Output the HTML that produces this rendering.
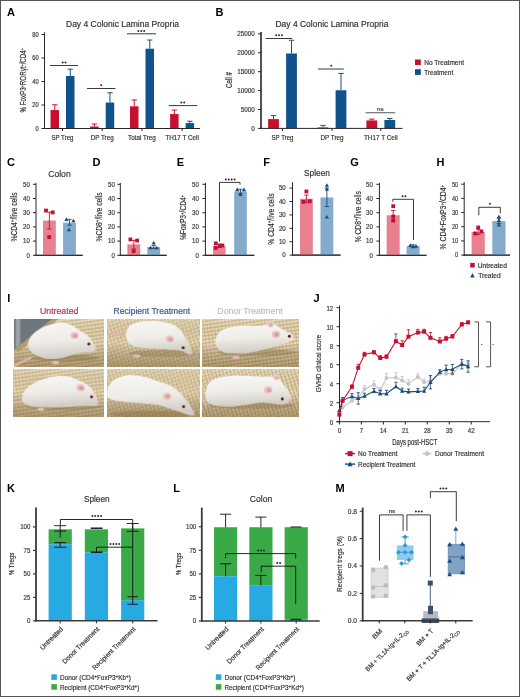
<!DOCTYPE html><html><head><meta charset="utf-8"><style>html,body{margin:0;padding:0;background:#fff;}svg{display:block;will-change:transform;font-family:"Liberation Sans",sans-serif;}</style></head><body>
<svg width="520" height="697" viewBox="0 0 520 697">
<rect x="0" y="0" width="520" height="697" fill="#fff" />
<text x="7" y="16.3" font-size="11" text-anchor="start" fill="#000" font-weight="bold" >A</text>
<text x="122.5" y="26.6" font-size="8.3" text-anchor="middle" fill="#333" font-weight="normal" stroke="#333" stroke-width="0.18" textLength="113" lengthAdjust="spacingAndGlyphs" >Day 4 Colonic Lamina Propria</text>
<line x1="44.5" y1="32.3" x2="44.5" y2="129" stroke="#262626" stroke-width="1"/>
<line x1="44" y1="128.5" x2="200" y2="128.5" stroke="#262626" stroke-width="1"/>
<line x1="41.5" y1="128.5" x2="44.5" y2="128.5" stroke="#262626" stroke-width="1"/>
<text x="38.6" y="130.9" font-size="6.6" text-anchor="end" fill="#3a3a3a" font-weight="normal" stroke="#3a3a3a" stroke-width="0.18" textLength="3.2" lengthAdjust="spacingAndGlyphs" >0</text>
<line x1="41.5" y1="105" x2="44.5" y2="105" stroke="#262626" stroke-width="1"/>
<text x="38.6" y="107.4" font-size="6.6" text-anchor="end" fill="#3a3a3a" font-weight="normal" stroke="#3a3a3a" stroke-width="0.18" textLength="6.4" lengthAdjust="spacingAndGlyphs" >20</text>
<line x1="41.5" y1="81.5" x2="44.5" y2="81.5" stroke="#262626" stroke-width="1"/>
<text x="38.6" y="83.9" font-size="6.6" text-anchor="end" fill="#3a3a3a" font-weight="normal" stroke="#3a3a3a" stroke-width="0.18" textLength="6.4" lengthAdjust="spacingAndGlyphs" >40</text>
<line x1="41.5" y1="58" x2="44.5" y2="58" stroke="#262626" stroke-width="1"/>
<text x="38.6" y="60.4" font-size="6.6" text-anchor="end" fill="#3a3a3a" font-weight="normal" stroke="#3a3a3a" stroke-width="0.18" textLength="6.4" lengthAdjust="spacingAndGlyphs" >60</text>
<line x1="41.5" y1="34.5" x2="44.5" y2="34.5" stroke="#262626" stroke-width="1"/>
<text x="38.6" y="36.9" font-size="6.6" text-anchor="end" fill="#3a3a3a" font-weight="normal" stroke="#3a3a3a" stroke-width="0.18" textLength="6.4" lengthAdjust="spacingAndGlyphs" >80</text>
<text x="25.7" y="80.3" font-size="8.4" text-anchor="middle" fill="#333" font-weight="normal" stroke="#333" stroke-width="0.18" transform="rotate(-90 25.7 80.3)" textLength="64.6" lengthAdjust="spacingAndGlyphs" >% FoxP3<tspan dy="-2" font-size="5">+</tspan><tspan dy="2">ROR</tspan>γt<tspan dy="-2" font-size="5">+</tspan><tspan dy="2">/CD4</tspan><tspan dy="-2" font-size="5">+</tspan></text>
<line x1="62.5" y1="128.5" x2="62.5" y2="131" stroke="#262626" stroke-width="1"/>
<text x="62.5" y="140.2" font-size="6.8" text-anchor="middle" fill="#333" font-weight="normal" stroke="#333" stroke-width="0.18" textLength="22.1" lengthAdjust="spacingAndGlyphs" >SP Treg</text>
<line x1="54.75" y1="110.05" x2="54.75" y2="104.77" stroke="#c8102e" stroke-width="1"/>
<line x1="52.15" y1="104.77" x2="57.35" y2="104.77" stroke="#c8102e" stroke-width="1"/>
<rect x="50.5" y="110.05" width="8.5" height="18.45" fill="#c8102e" />
<line x1="70.25" y1="75.98" x2="70.25" y2="69.16" stroke="#0f528c" stroke-width="1"/>
<line x1="67.65" y1="69.16" x2="72.85" y2="69.16" stroke="#0f528c" stroke-width="1"/>
<rect x="66" y="75.98" width="8.5" height="52.52" fill="#0f528c" />
<line x1="102.2" y1="128.5" x2="102.2" y2="131" stroke="#262626" stroke-width="1"/>
<text x="102.2" y="140.2" font-size="6.8" text-anchor="middle" fill="#333" font-weight="normal" stroke="#333" stroke-width="0.18" textLength="22.9" lengthAdjust="spacingAndGlyphs" >DP Treg</text>
<line x1="94.45" y1="126.5" x2="94.45" y2="124.03" stroke="#c8102e" stroke-width="1"/>
<line x1="91.85" y1="124.03" x2="97.05" y2="124.03" stroke="#c8102e" stroke-width="1"/>
<rect x="90.2" y="126.5" width="8.5" height="2" fill="#c8102e" />
<line x1="109.95" y1="102.53" x2="109.95" y2="92.78" stroke="#0f528c" stroke-width="1"/>
<line x1="107.35" y1="92.78" x2="112.55" y2="92.78" stroke="#0f528c" stroke-width="1"/>
<rect x="105.7" y="102.53" width="8.5" height="25.97" fill="#0f528c" />
<line x1="142" y1="128.5" x2="142" y2="131" stroke="#262626" stroke-width="1"/>
<text x="142" y="140.2" font-size="6.8" text-anchor="middle" fill="#333" font-weight="normal" stroke="#333" stroke-width="0.18" textLength="27.8" lengthAdjust="spacingAndGlyphs" >Total Treg</text>
<line x1="134.25" y1="106.29" x2="134.25" y2="99.95" stroke="#c8102e" stroke-width="1"/>
<line x1="131.65" y1="99.95" x2="136.85" y2="99.95" stroke="#c8102e" stroke-width="1"/>
<rect x="130" y="106.29" width="8.5" height="22.21" fill="#c8102e" />
<line x1="149.75" y1="48.72" x2="149.75" y2="40.02" stroke="#0f528c" stroke-width="1"/>
<line x1="147.15" y1="40.02" x2="152.35" y2="40.02" stroke="#0f528c" stroke-width="1"/>
<rect x="145.5" y="48.72" width="8.5" height="79.78" fill="#0f528c" />
<line x1="182.1" y1="128.5" x2="182.1" y2="131" stroke="#262626" stroke-width="1"/>
<text x="182.1" y="140.2" font-size="6.8" text-anchor="middle" fill="#333" font-weight="normal" stroke="#333" stroke-width="0.18" textLength="33.4" lengthAdjust="spacingAndGlyphs" >TH17 T Cell</text>
<line x1="174.35" y1="114.05" x2="174.35" y2="110.05" stroke="#c8102e" stroke-width="1"/>
<line x1="171.75" y1="110.05" x2="176.95" y2="110.05" stroke="#c8102e" stroke-width="1"/>
<rect x="170.1" y="114.05" width="8.5" height="14.45" fill="#c8102e" />
<line x1="189.85" y1="123.09" x2="189.85" y2="121.22" stroke="#0f528c" stroke-width="1"/>
<line x1="187.25" y1="121.22" x2="192.45" y2="121.22" stroke="#0f528c" stroke-width="1"/>
<rect x="185.6" y="123.09" width="8.5" height="5.41" fill="#0f528c" />
<line x1="44" y1="128.5" x2="200" y2="128.5" stroke="#262626" stroke-width="1"/>
<line x1="50" y1="65.5" x2="78" y2="65.5" stroke="#3a3a3a" stroke-width="1"/>
<circle cx="62.65" cy="62.6" r="1.0" fill="#2a2a2a"/>
<circle cx="65.55" cy="62.6" r="1.0" fill="#2a2a2a"/>
<line x1="87" y1="88.5" x2="115.5" y2="88.5" stroke="#3a3a3a" stroke-width="1"/>
<circle cx="101.25" cy="85.2" r="1.0" fill="#2a2a2a"/>
<line x1="127" y1="33.8" x2="156" y2="33.8" stroke="#3a3a3a" stroke-width="1"/>
<circle cx="138.4" cy="31" r="1.0" fill="#2a2a2a"/>
<circle cx="141.3" cy="31" r="1.0" fill="#2a2a2a"/>
<circle cx="144.2" cy="31" r="1.0" fill="#2a2a2a"/>
<line x1="168.7" y1="105.6" x2="197.3" y2="105.6" stroke="#3a3a3a" stroke-width="1"/>
<circle cx="181.3" cy="102.6" r="1.0" fill="#2a2a2a"/>
<circle cx="184.2" cy="102.6" r="1.0" fill="#2a2a2a"/>
<text x="215.5" y="16.3" font-size="11" text-anchor="start" fill="#000" font-weight="bold" >B</text>
<text x="331.9" y="26.6" font-size="8.3" text-anchor="middle" fill="#333" font-weight="normal" stroke="#333" stroke-width="0.18" textLength="113" lengthAdjust="spacingAndGlyphs" >Day 4 Colonic Lamina Propria</text>
<line x1="261" y1="31.9" x2="261" y2="129" stroke="#262626" stroke-width="1.6"/>
<line x1="258" y1="128.4" x2="261" y2="128.4" stroke="#262626" stroke-width="1"/>
<text x="254.8" y="130.8" font-size="6.6" text-anchor="end" fill="#3a3a3a" font-weight="normal" stroke="#3a3a3a" stroke-width="0.18" textLength="3.5" lengthAdjust="spacingAndGlyphs" >0</text>
<line x1="258" y1="109.5" x2="261" y2="109.5" stroke="#262626" stroke-width="1"/>
<text x="254.8" y="111.9" font-size="6.6" text-anchor="end" fill="#3a3a3a" font-weight="normal" stroke="#3a3a3a" stroke-width="0.18" textLength="14" lengthAdjust="spacingAndGlyphs" >5000</text>
<line x1="258" y1="90.6" x2="261" y2="90.6" stroke="#262626" stroke-width="1"/>
<text x="254.8" y="93" font-size="6.6" text-anchor="end" fill="#3a3a3a" font-weight="normal" stroke="#3a3a3a" stroke-width="0.18" textLength="17.5" lengthAdjust="spacingAndGlyphs" >10000</text>
<line x1="258" y1="71.7" x2="261" y2="71.7" stroke="#262626" stroke-width="1"/>
<text x="254.8" y="74.1" font-size="6.6" text-anchor="end" fill="#3a3a3a" font-weight="normal" stroke="#3a3a3a" stroke-width="0.18" textLength="17.5" lengthAdjust="spacingAndGlyphs" >15000</text>
<line x1="258" y1="52.8" x2="261" y2="52.8" stroke="#262626" stroke-width="1"/>
<text x="254.8" y="55.2" font-size="6.6" text-anchor="end" fill="#3a3a3a" font-weight="normal" stroke="#3a3a3a" stroke-width="0.18" textLength="17.5" lengthAdjust="spacingAndGlyphs" >20000</text>
<line x1="258" y1="33.9" x2="261" y2="33.9" stroke="#262626" stroke-width="1"/>
<text x="254.8" y="36.3" font-size="6.6" text-anchor="end" fill="#3a3a3a" font-weight="normal" stroke="#3a3a3a" stroke-width="0.18" textLength="17.5" lengthAdjust="spacingAndGlyphs" >25000</text>
<text x="232" y="80" font-size="8.2" text-anchor="middle" fill="#333" font-weight="normal" stroke="#333" stroke-width="0.18" transform="rotate(-90 232 80)" textLength="16.2" lengthAdjust="spacingAndGlyphs" >Cell #</text>
<line x1="282.5" y1="128.4" x2="282.5" y2="131" stroke="#262626" stroke-width="1"/>
<text x="282.5" y="140.4" font-size="6.8" text-anchor="middle" fill="#333" font-weight="normal" stroke="#333" stroke-width="0.18" textLength="22" lengthAdjust="spacingAndGlyphs" >SP Treg</text>
<line x1="273.5" y1="119.1" x2="273.5" y2="115.59" stroke="#c8102e" stroke-width="1"/>
<line x1="270.8" y1="115.59" x2="276.2" y2="115.59" stroke="#c8102e" stroke-width="1"/>
<rect x="268.1" y="119.1" width="10.8" height="9.3" fill="#c8102e" />
<line x1="291.5" y1="53.5" x2="291.5" y2="40.25" stroke="#0f528c" stroke-width="1"/>
<line x1="288.8" y1="40.25" x2="294.2" y2="40.25" stroke="#0f528c" stroke-width="1"/>
<rect x="286.1" y="53.5" width="10.8" height="74.9" fill="#0f528c" />
<line x1="332" y1="128.4" x2="332" y2="131" stroke="#262626" stroke-width="1"/>
<text x="332" y="140.4" font-size="6.8" text-anchor="middle" fill="#333" font-weight="normal" stroke="#333" stroke-width="0.18" textLength="23" lengthAdjust="spacingAndGlyphs" >DP Treg</text>
<line x1="323" y1="127.42" x2="323" y2="125.41" stroke="#c8102e" stroke-width="1"/>
<line x1="320.3" y1="125.41" x2="325.7" y2="125.41" stroke="#c8102e" stroke-width="1"/>
<rect x="317.6" y="127.42" width="10.8" height="0.98" fill="#c8102e" />
<line x1="341" y1="90.26" x2="341" y2="73.4" stroke="#0f528c" stroke-width="1"/>
<line x1="338.3" y1="73.4" x2="343.7" y2="73.4" stroke="#0f528c" stroke-width="1"/>
<rect x="335.6" y="90.26" width="10.8" height="38.14" fill="#0f528c" />
<line x1="380.8" y1="128.4" x2="380.8" y2="131" stroke="#262626" stroke-width="1"/>
<text x="380.8" y="140.4" font-size="6.8" text-anchor="middle" fill="#333" font-weight="normal" stroke="#333" stroke-width="0.18" textLength="33.6" lengthAdjust="spacingAndGlyphs" >TH17 T Cell</text>
<line x1="371.8" y1="120.41" x2="371.8" y2="119.1" stroke="#c8102e" stroke-width="1"/>
<line x1="369.1" y1="119.1" x2="374.5" y2="119.1" stroke="#c8102e" stroke-width="1"/>
<rect x="366.4" y="120.41" width="10.8" height="7.99" fill="#c8102e" />
<line x1="389.8" y1="120.01" x2="389.8" y2="118.5" stroke="#0f528c" stroke-width="1"/>
<line x1="387.1" y1="118.5" x2="392.5" y2="118.5" stroke="#0f528c" stroke-width="1"/>
<rect x="384.4" y="120.01" width="10.8" height="8.39" fill="#0f528c" />
<line x1="260.5" y1="128.4" x2="402.5" y2="128.4" stroke="#262626" stroke-width="1"/>
<line x1="265.6" y1="38.5" x2="292" y2="38.5" stroke="#3a3a3a" stroke-width="1"/>
<circle cx="276.1" cy="35.2" r="1.0" fill="#2a2a2a"/>
<circle cx="279" cy="35.2" r="1.0" fill="#2a2a2a"/>
<circle cx="281.9" cy="35.2" r="1.0" fill="#2a2a2a"/>
<line x1="318" y1="69" x2="343.8" y2="69" stroke="#3a3a3a" stroke-width="1"/>
<circle cx="331.25" cy="65.8" r="1.0" fill="#2a2a2a"/>
<line x1="365.6" y1="112.75" x2="395.3" y2="112.75" stroke="#555" stroke-width="1"/>
<text x="380.3" y="110.6" font-size="6.2" text-anchor="middle" fill="#333" font-weight="normal" stroke="#333" stroke-width="0.18" >ns</text>
<rect x="415" y="59.5" width="5.8" height="5.5" fill="#c8102e" />
<rect x="415" y="69.2" width="5.8" height="5.7" fill="#0f528c" />
<text x="424.2" y="64.8" font-size="6.8" text-anchor="start" fill="#333" font-weight="normal" stroke="#333" stroke-width="0.18" textLength="39.8" lengthAdjust="spacingAndGlyphs" >No Treatment</text>
<text x="424.2" y="74.8" font-size="6.8" text-anchor="start" fill="#333" font-weight="normal" stroke="#333" stroke-width="0.18" textLength="29" lengthAdjust="spacingAndGlyphs" >Treatment</text>
<text x="6.9" y="166.3" font-size="11" text-anchor="start" fill="#000" font-weight="bold" >C</text>
<text x="59.45" y="176.8" font-size="9" text-anchor="middle" fill="#333" font-weight="normal" stroke="#333" stroke-width="0.18" textLength="22.5" lengthAdjust="spacingAndGlyphs" >Colon</text>
<line x1="36" y1="182.9" x2="36" y2="255.8" stroke="#262626" stroke-width="1"/>
<line x1="35.5" y1="255.3" x2="82.7" y2="255.3" stroke="#262626" stroke-width="1"/>
<line x1="33" y1="255.3" x2="36" y2="255.3" stroke="#262626" stroke-width="1"/>
<text x="29.8" y="257.6" font-size="6.6" text-anchor="end" fill="#3a3a3a" font-weight="normal" stroke="#3a3a3a" stroke-width="0.18" textLength="3.4" lengthAdjust="spacingAndGlyphs" >0</text>
<line x1="33" y1="241.1" x2="36" y2="241.1" stroke="#262626" stroke-width="1"/>
<text x="29.8" y="243.4" font-size="6.6" text-anchor="end" fill="#3a3a3a" font-weight="normal" stroke="#3a3a3a" stroke-width="0.18" textLength="6.8" lengthAdjust="spacingAndGlyphs" >10</text>
<line x1="33" y1="226.9" x2="36" y2="226.9" stroke="#262626" stroke-width="1"/>
<text x="29.8" y="229.2" font-size="6.6" text-anchor="end" fill="#3a3a3a" font-weight="normal" stroke="#3a3a3a" stroke-width="0.18" textLength="6.8" lengthAdjust="spacingAndGlyphs" >20</text>
<line x1="33" y1="212.7" x2="36" y2="212.7" stroke="#262626" stroke-width="1"/>
<text x="29.8" y="215" font-size="6.6" text-anchor="end" fill="#3a3a3a" font-weight="normal" stroke="#3a3a3a" stroke-width="0.18" textLength="6.8" lengthAdjust="spacingAndGlyphs" >30</text>
<line x1="33" y1="198.5" x2="36" y2="198.5" stroke="#262626" stroke-width="1"/>
<text x="29.8" y="200.8" font-size="6.6" text-anchor="end" fill="#3a3a3a" font-weight="normal" stroke="#3a3a3a" stroke-width="0.18" textLength="6.8" lengthAdjust="spacingAndGlyphs" >40</text>
<line x1="33" y1="184.3" x2="36" y2="184.3" stroke="#262626" stroke-width="1"/>
<text x="29.8" y="186.6" font-size="6.6" text-anchor="end" fill="#3a3a3a" font-weight="normal" stroke="#3a3a3a" stroke-width="0.18" textLength="6.8" lengthAdjust="spacingAndGlyphs" >50</text>
<rect x="43" y="220.51" width="12.8" height="34.79" fill="#e8808f" />
<rect x="63.1" y="222.64" width="12.8" height="32.66" fill="#84aacc" />
<line x1="49.4" y1="229.03" x2="49.4" y2="212.13" stroke="#c0103a" stroke-width="0.9"/>
<line x1="47.2" y1="229.03" x2="51.6" y2="229.03" stroke="#c0103a" stroke-width="0.9"/>
<line x1="47.2" y1="212.13" x2="51.6" y2="212.13" stroke="#c0103a" stroke-width="0.9"/>
<line x1="69.5" y1="225.2" x2="69.5" y2="219.37" stroke="#1b4a7a" stroke-width="0.9"/>
<line x1="67.3" y1="225.2" x2="71.7" y2="225.2" stroke="#1b4a7a" stroke-width="0.9"/>
<line x1="67.3" y1="219.37" x2="71.7" y2="219.37" stroke="#1b4a7a" stroke-width="0.9"/>
<rect x="44.1" y="208.67" width="3.8" height="3.8" fill="#c0103a" />
<rect x="50.8" y="210.52" width="3.8" height="3.8" fill="#c0103a" />
<rect x="47.3" y="235.22" width="3.8" height="3.8" fill="#c0103a" />
<path d="M64.3,220.93 L66.4,217.23 L68.5,220.93 Z" fill="#1b4a7a"/>
<path d="M71.3,222.35 L73.4,218.65 L75.5,222.35 Z" fill="#1b4a7a"/>
<path d="M66.9,231.16 L69,227.46 L71.1,231.16 Z" fill="#1b4a7a"/>
<line x1="35.5" y1="255.3" x2="82.7" y2="255.3" stroke="#262626" stroke-width="1"/>
<text x="16.9" y="217" font-size="8.2" text-anchor="middle" fill="#333" font-weight="normal" stroke="#333" stroke-width="0.18" transform="rotate(-90 16.9 217)" textLength="49" lengthAdjust="spacingAndGlyphs" >%CD4<tspan dy="-2.4" font-size="5.5">+</tspan><tspan dy="2.4">/live cells</tspan></text>
<text x="92.6" y="166.3" font-size="11" text-anchor="start" fill="#000" font-weight="bold" >D</text>
<line x1="120.3" y1="182.9" x2="120.3" y2="255.8" stroke="#262626" stroke-width="1"/>
<line x1="119.8" y1="255.3" x2="166.7" y2="255.3" stroke="#262626" stroke-width="1"/>
<line x1="117.3" y1="255.3" x2="120.3" y2="255.3" stroke="#262626" stroke-width="1"/>
<text x="114.8" y="257.6" font-size="6.6" text-anchor="end" fill="#3a3a3a" font-weight="normal" stroke="#3a3a3a" stroke-width="0.18" textLength="3.4" lengthAdjust="spacingAndGlyphs" >0</text>
<line x1="117.3" y1="241.1" x2="120.3" y2="241.1" stroke="#262626" stroke-width="1"/>
<text x="114.8" y="243.4" font-size="6.6" text-anchor="end" fill="#3a3a3a" font-weight="normal" stroke="#3a3a3a" stroke-width="0.18" textLength="6.8" lengthAdjust="spacingAndGlyphs" >10</text>
<line x1="117.3" y1="226.9" x2="120.3" y2="226.9" stroke="#262626" stroke-width="1"/>
<text x="114.8" y="229.2" font-size="6.6" text-anchor="end" fill="#3a3a3a" font-weight="normal" stroke="#3a3a3a" stroke-width="0.18" textLength="6.8" lengthAdjust="spacingAndGlyphs" >20</text>
<line x1="117.3" y1="212.7" x2="120.3" y2="212.7" stroke="#262626" stroke-width="1"/>
<text x="114.8" y="215" font-size="6.6" text-anchor="end" fill="#3a3a3a" font-weight="normal" stroke="#3a3a3a" stroke-width="0.18" textLength="6.8" lengthAdjust="spacingAndGlyphs" >30</text>
<line x1="117.3" y1="198.5" x2="120.3" y2="198.5" stroke="#262626" stroke-width="1"/>
<text x="114.8" y="200.8" font-size="6.6" text-anchor="end" fill="#3a3a3a" font-weight="normal" stroke="#3a3a3a" stroke-width="0.18" textLength="6.8" lengthAdjust="spacingAndGlyphs" >40</text>
<line x1="117.3" y1="184.3" x2="120.3" y2="184.3" stroke="#262626" stroke-width="1"/>
<text x="114.8" y="186.6" font-size="6.6" text-anchor="end" fill="#3a3a3a" font-weight="normal" stroke="#3a3a3a" stroke-width="0.18" textLength="6.8" lengthAdjust="spacingAndGlyphs" >50</text>
<rect x="127.4" y="244.37" width="12.8" height="10.93" fill="#e8808f" />
<rect x="147.3" y="247.06" width="12.8" height="8.24" fill="#84aacc" />
<line x1="133.8" y1="248.91" x2="133.8" y2="240.39" stroke="#c0103a" stroke-width="0.9"/>
<line x1="131.6" y1="248.91" x2="136" y2="248.91" stroke="#c0103a" stroke-width="0.9"/>
<line x1="131.6" y1="240.39" x2="136" y2="240.39" stroke="#c0103a" stroke-width="0.9"/>
<line x1="153.7" y1="248.48" x2="153.7" y2="245.64" stroke="#1b4a7a" stroke-width="0.9"/>
<line x1="151.5" y1="248.48" x2="155.9" y2="248.48" stroke="#1b4a7a" stroke-width="0.9"/>
<line x1="151.5" y1="245.64" x2="155.9" y2="245.64" stroke="#1b4a7a" stroke-width="0.9"/>
<rect x="128.5" y="237.5" width="3.8" height="3.8" fill="#c0103a" />
<rect x="135.2" y="238.63" width="3.8" height="3.8" fill="#c0103a" />
<rect x="131.8" y="249.28" width="3.8" height="3.8" fill="#c0103a" />
<path d="M148.4,249.33 L150.5,245.63 L152.6,249.33 Z" fill="#1b4a7a"/>
<path d="M154.7,249.33 L156.8,245.63 L158.9,249.33 Z" fill="#1b4a7a"/>
<path d="M151.6,244.5 L153.7,240.8 L155.8,244.5 Z" fill="#1b4a7a"/>
<line x1="119.8" y1="255.3" x2="166.7" y2="255.3" stroke="#262626" stroke-width="1"/>
<text x="101.6" y="217" font-size="8.2" text-anchor="middle" fill="#333" font-weight="normal" stroke="#333" stroke-width="0.18" transform="rotate(-90 101.6 217)" textLength="49" lengthAdjust="spacingAndGlyphs" >%CD8<tspan dy="-2.4" font-size="5.5">+</tspan><tspan dy="2.4">/live cells</tspan></text>
<text x="176.8" y="166.3" font-size="11" text-anchor="start" fill="#000" font-weight="bold" >E</text>
<line x1="205.4" y1="182.9" x2="205.4" y2="255.8" stroke="#262626" stroke-width="1"/>
<line x1="204.9" y1="255.3" x2="254.3" y2="255.3" stroke="#262626" stroke-width="1"/>
<line x1="202.4" y1="255.3" x2="205.4" y2="255.3" stroke="#262626" stroke-width="1"/>
<text x="198.9" y="257.6" font-size="6.6" text-anchor="end" fill="#3a3a3a" font-weight="normal" stroke="#3a3a3a" stroke-width="0.18" textLength="3.4" lengthAdjust="spacingAndGlyphs" >0</text>
<line x1="202.4" y1="241.1" x2="205.4" y2="241.1" stroke="#262626" stroke-width="1"/>
<text x="198.9" y="243.4" font-size="6.6" text-anchor="end" fill="#3a3a3a" font-weight="normal" stroke="#3a3a3a" stroke-width="0.18" textLength="6.8" lengthAdjust="spacingAndGlyphs" >10</text>
<line x1="202.4" y1="226.9" x2="205.4" y2="226.9" stroke="#262626" stroke-width="1"/>
<text x="198.9" y="229.2" font-size="6.6" text-anchor="end" fill="#3a3a3a" font-weight="normal" stroke="#3a3a3a" stroke-width="0.18" textLength="6.8" lengthAdjust="spacingAndGlyphs" >20</text>
<line x1="202.4" y1="212.7" x2="205.4" y2="212.7" stroke="#262626" stroke-width="1"/>
<text x="198.9" y="215" font-size="6.6" text-anchor="end" fill="#3a3a3a" font-weight="normal" stroke="#3a3a3a" stroke-width="0.18" textLength="6.8" lengthAdjust="spacingAndGlyphs" >30</text>
<line x1="202.4" y1="198.5" x2="205.4" y2="198.5" stroke="#262626" stroke-width="1"/>
<text x="198.9" y="200.8" font-size="6.6" text-anchor="end" fill="#3a3a3a" font-weight="normal" stroke="#3a3a3a" stroke-width="0.18" textLength="6.8" lengthAdjust="spacingAndGlyphs" >40</text>
<line x1="202.4" y1="184.3" x2="205.4" y2="184.3" stroke="#262626" stroke-width="1"/>
<text x="198.9" y="186.6" font-size="6.6" text-anchor="end" fill="#3a3a3a" font-weight="normal" stroke="#3a3a3a" stroke-width="0.18" textLength="6.8" lengthAdjust="spacingAndGlyphs" >50</text>
<rect x="213" y="246.07" width="12.6" height="9.23" fill="#e8808f" />
<rect x="234.2" y="191.4" width="12.6" height="63.9" fill="#84aacc" />
<line x1="219.3" y1="247.49" x2="219.3" y2="243.94" stroke="#c0103a" stroke-width="0.9"/>
<line x1="217.1" y1="247.49" x2="221.5" y2="247.49" stroke="#c0103a" stroke-width="0.9"/>
<line x1="217.1" y1="243.94" x2="221.5" y2="243.94" stroke="#c0103a" stroke-width="0.9"/>
<line x1="240.5" y1="193.53" x2="240.5" y2="189.27" stroke="#1b4a7a" stroke-width="0.9"/>
<line x1="238.3" y1="193.53" x2="242.7" y2="193.53" stroke="#1b4a7a" stroke-width="0.9"/>
<line x1="238.3" y1="189.27" x2="242.7" y2="189.27" stroke="#1b4a7a" stroke-width="0.9"/>
<rect x="213.9" y="241.47" width="3.8" height="3.8" fill="#c0103a" />
<rect x="220.5" y="243.6" width="3.8" height="3.8" fill="#c0103a" />
<rect x="213.9" y="246.02" width="3.8" height="3.8" fill="#c0103a" />
<rect x="217.9" y="244.17" width="3.8" height="3.8" fill="#c0103a" />
<path d="M235.2,191.25 L237.3,187.55 L239.4,191.25 Z" fill="#1b4a7a"/>
<path d="M241.9,191.25 L244,187.55 L246.1,191.25 Z" fill="#1b4a7a"/>
<path d="M238.4,195.94 L240.5,192.24 L242.6,195.94 Z" fill="#1b4a7a"/>
<line x1="204.9" y1="255.3" x2="254.3" y2="255.3" stroke="#262626" stroke-width="1"/>
<text x="186.4" y="217.4" font-size="8.2" text-anchor="middle" fill="#333" font-weight="normal" stroke="#333" stroke-width="0.18" transform="rotate(-90 186.4 217.4)" textLength="45.2" lengthAdjust="spacingAndGlyphs" >%FoxP3<tspan dy="-2.4" font-size="5.5">+</tspan><tspan dy="2.4">/CD4</tspan><tspan dy="-2.4" font-size="5.5">+</tspan></text>
<path d="M219.5,241.5 V182.4 H240 V184.6" fill="none" stroke="#262626" stroke-width="0.9"/>
<circle cx="225.85" cy="179.6" r="1.0" fill="#2a2a2a"/>
<circle cx="228.75" cy="179.6" r="1.0" fill="#2a2a2a"/>
<circle cx="231.65" cy="179.6" r="1.0" fill="#2a2a2a"/>
<circle cx="234.55" cy="179.6" r="1.0" fill="#2a2a2a"/>
<text x="263.3" y="166.3" font-size="11" text-anchor="start" fill="#000" font-weight="bold" >F</text>
<text x="317" y="176.4" font-size="9" text-anchor="middle" fill="#333" font-weight="normal" stroke="#333" stroke-width="0.18" textLength="26" lengthAdjust="spacingAndGlyphs" >Spleen</text>
<line x1="292.5" y1="182.2" x2="292.5" y2="255.6" stroke="#262626" stroke-width="1"/>
<line x1="292" y1="255.1" x2="340.5" y2="255.1" stroke="#262626" stroke-width="1"/>
<line x1="289.5" y1="255.1" x2="292.5" y2="255.1" stroke="#262626" stroke-width="1"/>
<text x="285.7" y="257.4" font-size="6.6" text-anchor="end" fill="#3a3a3a" font-weight="normal" stroke="#3a3a3a" stroke-width="0.18" textLength="3.4" lengthAdjust="spacingAndGlyphs" >0</text>
<line x1="289.5" y1="241.7" x2="292.5" y2="241.7" stroke="#262626" stroke-width="1"/>
<text x="285.7" y="244" font-size="6.6" text-anchor="end" fill="#3a3a3a" font-weight="normal" stroke="#3a3a3a" stroke-width="0.18" textLength="6.8" lengthAdjust="spacingAndGlyphs" >10</text>
<line x1="289.5" y1="228.3" x2="292.5" y2="228.3" stroke="#262626" stroke-width="1"/>
<text x="285.7" y="230.6" font-size="6.6" text-anchor="end" fill="#3a3a3a" font-weight="normal" stroke="#3a3a3a" stroke-width="0.18" textLength="6.8" lengthAdjust="spacingAndGlyphs" >20</text>
<line x1="289.5" y1="214.9" x2="292.5" y2="214.9" stroke="#262626" stroke-width="1"/>
<text x="285.7" y="217.2" font-size="6.6" text-anchor="end" fill="#3a3a3a" font-weight="normal" stroke="#3a3a3a" stroke-width="0.18" textLength="6.8" lengthAdjust="spacingAndGlyphs" >30</text>
<line x1="289.5" y1="201.5" x2="292.5" y2="201.5" stroke="#262626" stroke-width="1"/>
<text x="285.7" y="203.8" font-size="6.6" text-anchor="end" fill="#3a3a3a" font-weight="normal" stroke="#3a3a3a" stroke-width="0.18" textLength="6.8" lengthAdjust="spacingAndGlyphs" >40</text>
<line x1="289.5" y1="188.1" x2="292.5" y2="188.1" stroke="#262626" stroke-width="1"/>
<text x="285.7" y="190.4" font-size="6.6" text-anchor="end" fill="#3a3a3a" font-weight="normal" stroke="#3a3a3a" stroke-width="0.18" textLength="6.8" lengthAdjust="spacingAndGlyphs" >50</text>
<rect x="300" y="198.82" width="12.8" height="56.28" fill="#e8808f" />
<rect x="320.5" y="197.48" width="12.8" height="57.62" fill="#84aacc" />
<line x1="306.4" y1="202.17" x2="306.4" y2="195.07" stroke="#c0103a" stroke-width="0.9"/>
<line x1="304.2" y1="202.17" x2="308.6" y2="202.17" stroke="#c0103a" stroke-width="0.9"/>
<line x1="304.2" y1="195.07" x2="308.6" y2="195.07" stroke="#c0103a" stroke-width="0.9"/>
<line x1="326.9" y1="206.59" x2="326.9" y2="188.1" stroke="#1b4a7a" stroke-width="0.9"/>
<line x1="324.7" y1="206.59" x2="329.1" y2="206.59" stroke="#1b4a7a" stroke-width="0.9"/>
<line x1="324.7" y1="188.1" x2="329.1" y2="188.1" stroke="#1b4a7a" stroke-width="0.9"/>
<rect x="304.5" y="189.55" width="3.8" height="3.8" fill="#c0103a" />
<rect x="301.5" y="200" width="3.8" height="3.8" fill="#c0103a" />
<rect x="307.9" y="199.33" width="3.8" height="3.8" fill="#c0103a" />
<path d="M324.8,186.85 L326.9,183.15 L329,186.85 Z" fill="#1b4a7a"/>
<path d="M324.8,190.74 L326.9,187.04 L329,190.74 Z" fill="#1b4a7a"/>
<path d="M324.8,218.61 L326.9,214.91 L329,218.61 Z" fill="#1b4a7a"/>
<line x1="292" y1="255.1" x2="340.5" y2="255.1" stroke="#262626" stroke-width="1"/>
<text x="273.7" y="219" font-size="8.2" text-anchor="middle" fill="#333" font-weight="normal" stroke="#333" stroke-width="0.18" transform="rotate(-90 273.7 219)" textLength="51.3" lengthAdjust="spacingAndGlyphs" >% CD4<tspan dy="-2.4" font-size="5.5">+</tspan><tspan dy="2.4">/live cells</tspan></text>
<text x="350.2" y="166.3" font-size="11" text-anchor="start" fill="#000" font-weight="bold" >G</text>
<line x1="379.4" y1="182.9" x2="379.4" y2="255.8" stroke="#262626" stroke-width="1"/>
<line x1="378.9" y1="255.3" x2="426.5" y2="255.3" stroke="#262626" stroke-width="1"/>
<line x1="376.4" y1="255.3" x2="379.4" y2="255.3" stroke="#262626" stroke-width="1"/>
<text x="372.9" y="257.6" font-size="6.6" text-anchor="end" fill="#3a3a3a" font-weight="normal" stroke="#3a3a3a" stroke-width="0.18" textLength="3.4" lengthAdjust="spacingAndGlyphs" >0</text>
<line x1="376.4" y1="241.1" x2="379.4" y2="241.1" stroke="#262626" stroke-width="1"/>
<text x="372.9" y="243.4" font-size="6.6" text-anchor="end" fill="#3a3a3a" font-weight="normal" stroke="#3a3a3a" stroke-width="0.18" textLength="6.8" lengthAdjust="spacingAndGlyphs" >10</text>
<line x1="376.4" y1="226.9" x2="379.4" y2="226.9" stroke="#262626" stroke-width="1"/>
<text x="372.9" y="229.2" font-size="6.6" text-anchor="end" fill="#3a3a3a" font-weight="normal" stroke="#3a3a3a" stroke-width="0.18" textLength="6.8" lengthAdjust="spacingAndGlyphs" >20</text>
<line x1="376.4" y1="212.7" x2="379.4" y2="212.7" stroke="#262626" stroke-width="1"/>
<text x="372.9" y="215" font-size="6.6" text-anchor="end" fill="#3a3a3a" font-weight="normal" stroke="#3a3a3a" stroke-width="0.18" textLength="6.8" lengthAdjust="spacingAndGlyphs" >30</text>
<line x1="376.4" y1="198.5" x2="379.4" y2="198.5" stroke="#262626" stroke-width="1"/>
<text x="372.9" y="200.8" font-size="6.6" text-anchor="end" fill="#3a3a3a" font-weight="normal" stroke="#3a3a3a" stroke-width="0.18" textLength="6.8" lengthAdjust="spacingAndGlyphs" >40</text>
<line x1="376.4" y1="184.3" x2="379.4" y2="184.3" stroke="#262626" stroke-width="1"/>
<text x="372.9" y="186.6" font-size="6.6" text-anchor="end" fill="#3a3a3a" font-weight="normal" stroke="#3a3a3a" stroke-width="0.18" textLength="6.8" lengthAdjust="spacingAndGlyphs" >50</text>
<rect x="386.7" y="215.26" width="13" height="40.04" fill="#e8808f" />
<rect x="406.6" y="246.07" width="13" height="9.23" fill="#84aacc" />
<line x1="393.2" y1="220.51" x2="393.2" y2="210.43" stroke="#c0103a" stroke-width="0.9"/>
<line x1="391" y1="220.51" x2="395.4" y2="220.51" stroke="#c0103a" stroke-width="0.9"/>
<line x1="391" y1="210.43" x2="395.4" y2="210.43" stroke="#c0103a" stroke-width="0.9"/>
<line x1="413.1" y1="247.06" x2="413.1" y2="244.79" stroke="#1b4a7a" stroke-width="0.9"/>
<line x1="410.9" y1="247.06" x2="415.3" y2="247.06" stroke="#1b4a7a" stroke-width="0.9"/>
<line x1="410.9" y1="244.79" x2="415.3" y2="244.79" stroke="#1b4a7a" stroke-width="0.9"/>
<rect x="391.3" y="204.27" width="3.8" height="3.8" fill="#c0103a" />
<rect x="391.3" y="214.63" width="3.8" height="3.8" fill="#c0103a" />
<rect x="391.3" y="218.75" width="3.8" height="3.8" fill="#c0103a" />
<path d="M408.2,247.06 L410.3,243.36 L412.4,247.06 Z" fill="#1b4a7a"/>
<path d="M413.9,247.63 L416,243.93 L418.1,247.63 Z" fill="#1b4a7a"/>
<path d="M411.2,248.2 L413.3,244.5 L415.4,248.2 Z" fill="#1b4a7a"/>
<line x1="378.9" y1="255.3" x2="426.5" y2="255.3" stroke="#262626" stroke-width="1"/>
<text x="360.7" y="216.7" font-size="8.2" text-anchor="middle" fill="#333" font-weight="normal" stroke="#333" stroke-width="0.18" transform="rotate(-90 360.7 216.7)" textLength="51.3" lengthAdjust="spacingAndGlyphs" >% CD8<tspan dy="-2.4" font-size="5.5">+</tspan><tspan dy="2.4">/live cells</tspan></text>
<path d="M392.8,201.9 V199.3 H413.5 V240" fill="none" stroke="#262626" stroke-width="0.9"/>
<circle cx="402.55" cy="196.3" r="1.0" fill="#2a2a2a"/>
<circle cx="405.45" cy="196.3" r="1.0" fill="#2a2a2a"/>
<text x="436.6" y="166.3" font-size="11" text-anchor="start" fill="#000" font-weight="bold" >H</text>
<line x1="464.2" y1="182.1" x2="464.2" y2="255.6" stroke="#262626" stroke-width="1"/>
<line x1="463.7" y1="255.1" x2="510" y2="255.1" stroke="#262626" stroke-width="1"/>
<line x1="461.2" y1="255.1" x2="464.2" y2="255.1" stroke="#262626" stroke-width="1"/>
<text x="458.2" y="257.4" font-size="6.6" text-anchor="end" fill="#3a3a3a" font-weight="normal" stroke="#3a3a3a" stroke-width="0.18" textLength="3.1" lengthAdjust="spacingAndGlyphs" >0</text>
<line x1="461.2" y1="240.92" x2="464.2" y2="240.92" stroke="#262626" stroke-width="1"/>
<text x="458.2" y="243.22" font-size="6.6" text-anchor="end" fill="#3a3a3a" font-weight="normal" stroke="#3a3a3a" stroke-width="0.18" textLength="6.2" lengthAdjust="spacingAndGlyphs" >10</text>
<line x1="461.2" y1="226.74" x2="464.2" y2="226.74" stroke="#262626" stroke-width="1"/>
<text x="458.2" y="229.04" font-size="6.6" text-anchor="end" fill="#3a3a3a" font-weight="normal" stroke="#3a3a3a" stroke-width="0.18" textLength="6.2" lengthAdjust="spacingAndGlyphs" >20</text>
<line x1="461.2" y1="212.56" x2="464.2" y2="212.56" stroke="#262626" stroke-width="1"/>
<text x="458.2" y="214.86" font-size="6.6" text-anchor="end" fill="#3a3a3a" font-weight="normal" stroke="#3a3a3a" stroke-width="0.18" textLength="6.2" lengthAdjust="spacingAndGlyphs" >30</text>
<line x1="461.2" y1="198.38" x2="464.2" y2="198.38" stroke="#262626" stroke-width="1"/>
<text x="458.2" y="200.68" font-size="6.6" text-anchor="end" fill="#3a3a3a" font-weight="normal" stroke="#3a3a3a" stroke-width="0.18" textLength="6.2" lengthAdjust="spacingAndGlyphs" >40</text>
<line x1="461.2" y1="184.2" x2="464.2" y2="184.2" stroke="#262626" stroke-width="1"/>
<text x="458.2" y="186.5" font-size="6.6" text-anchor="end" fill="#3a3a3a" font-weight="normal" stroke="#3a3a3a" stroke-width="0.18" textLength="6.2" lengthAdjust="spacingAndGlyphs" >50</text>
<rect x="471.6" y="231.99" width="13.2" height="23.11" fill="#e8808f" />
<rect x="492.3" y="221.07" width="13.2" height="34.03" fill="#84aacc" />
<line x1="478.2" y1="234.54" x2="478.2" y2="229.15" stroke="#c0103a" stroke-width="0.9"/>
<line x1="476" y1="234.54" x2="480.4" y2="234.54" stroke="#c0103a" stroke-width="0.9"/>
<line x1="476" y1="229.15" x2="480.4" y2="229.15" stroke="#c0103a" stroke-width="0.9"/>
<line x1="498.9" y1="223.62" x2="498.9" y2="218.23" stroke="#1b4a7a" stroke-width="0.9"/>
<line x1="496.7" y1="223.62" x2="501.1" y2="223.62" stroke="#1b4a7a" stroke-width="0.9"/>
<line x1="496.7" y1="218.23" x2="501.1" y2="218.23" stroke="#1b4a7a" stroke-width="0.9"/>
<rect x="476.3" y="225.55" width="3.8" height="3.8" fill="#c0103a" />
<rect x="473.3" y="231.5" width="3.8" height="3.8" fill="#c0103a" />
<rect x="479.5" y="229.52" width="3.8" height="3.8" fill="#c0103a" />
<path d="M496.8,218.23 L498.9,214.53 L501,218.23 Z" fill="#1b4a7a"/>
<path d="M496.8,222.06 L498.9,218.36 L501,222.06 Z" fill="#1b4a7a"/>
<path d="M496.8,226.6 L498.9,222.9 L501,226.6 Z" fill="#1b4a7a"/>
<line x1="463.7" y1="255.1" x2="510" y2="255.1" stroke="#262626" stroke-width="1"/>
<text x="446.2" y="217.1" font-size="8.2" text-anchor="middle" fill="#333" font-weight="normal" stroke="#333" stroke-width="0.18" transform="rotate(-90 446.2 217.1)" textLength="64.6" lengthAdjust="spacingAndGlyphs" >% CD4<tspan dy="-2.4" font-size="5.5">+</tspan><tspan dy="2.4">FoxP3</tspan><tspan dy="-2.4" font-size="5.5">+</tspan><tspan dy="2.4">/CD4</tspan><tspan dy="-2.4" font-size="5.5">+</tspan></text>
<path d="M478.8,215.3 V207.3 H500.3 V213.3" fill="none" stroke="#262626" stroke-width="0.9"/>
<circle cx="489.9" cy="203.8" r="1.0" fill="#2a2a2a"/>
<rect x="470.2" y="262.9" width="4.5" height="4.6" fill="#c0103a" />
<path d="M470.2,277.6 L472.45,273 L474.7,277.6 Z" fill="#1b4a7a"/>
<text x="477.8" y="267.5" font-size="6.8" text-anchor="start" fill="#333" font-weight="normal" stroke="#333" stroke-width="0.18" textLength="29.2" lengthAdjust="spacingAndGlyphs" >Untreated</text>
<text x="478.2" y="277.7" font-size="6.8" text-anchor="start" fill="#333" font-weight="normal" stroke="#333" stroke-width="0.18" textLength="22.5" lengthAdjust="spacingAndGlyphs" >Treated</text>
<text x="7.2" y="301.6" font-size="11" text-anchor="start" fill="#000" font-weight="bold" >I</text>
<text x="59.2" y="313.6" font-size="8.8" text-anchor="middle" fill="#bb2f5a" font-weight="normal" stroke="#bb2f5a" stroke-width="0.18" textLength="38.5" lengthAdjust="spacingAndGlyphs" >Untreated</text>
<text x="151.8" y="313.8" font-size="8.8" text-anchor="middle" fill="#2f5a8e" font-weight="normal" stroke="#2f5a8e" stroke-width="0.18" textLength="76.5" lengthAdjust="spacingAndGlyphs" >Recipient Treatment</text>
<text x="250" y="313.8" font-size="8.8" text-anchor="middle" fill="#b9bec8" font-weight="normal" stroke="#b9bec8" stroke-width="0.18" textLength="65.3" lengthAdjust="spacingAndGlyphs" >Donor Treatment</text>
<defs>
<pattern id="cage" width="3.6" height="3.6" patternUnits="userSpaceOnUse" patternTransform="rotate(-8)">
<rect width="3.6" height="3.6" fill="#d2bd91"/>
<rect width="3.6" height="1.8" fill="#e9ddbd"/>
<rect x="0" y="0" width="1.0" height="3.6" fill="#b89d6a" opacity="0.45"/>
</pattern>
<pattern id="cage2" width="3.6" height="3.6" patternUnits="userSpaceOnUse" patternTransform="rotate(72)">
<rect width="3.6" height="3.6" fill="#d2bd91"/>
<rect width="3.6" height="1.8" fill="#e9ddbd"/>
<rect x="0" y="0" width="1.0" height="3.6" fill="#b89d6a" opacity="0.45"/>
</pattern>
<linearGradient id="floorshade" x1="0" y1="0" x2="0" y2="1">
<stop offset="0" stop-color="#fff" stop-opacity="0.12"/><stop offset="0.5" stop-color="#000" stop-opacity="0"/><stop offset="1" stop-color="#5a3c08" stop-opacity="0.38"/>
</linearGradient>
<linearGradient id="mouse" x1="0" y1="0" x2="0.15" y2="1">
<stop offset="0" stop-color="#f8f8f6"/><stop offset="0.55" stop-color="#eeede8"/><stop offset="1" stop-color="#d2cec5"/>
</linearGradient>
<linearGradient id="wall" x1="0" y1="0" x2="1" y2="0.3">
<stop offset="0" stop-color="#9aa0a6"/><stop offset="0.35" stop-color="#c4c8cc"/><stop offset="0.6" stop-color="#8e949c"/><stop offset="1" stop-color="#a6a39a"/>
</linearGradient>
<filter id="soft" x="0" y="0" width="100%" height="100%"><feGaussianBlur stdDeviation="0.45"/></filter>
</defs>
<svg x="13.5" y="318.9" width="90" height="47.8" viewBox="0 0 90 47.8">
<g filter="url(#soft)">
<rect x="-1" y="-1" width="92" height="49.8" fill="url(#cage)" />
<rect x="-1" y="-1" width="92" height="49.8" fill="url(#floorshade)" />
<path d="M0,0 H39 L1.3,30.5 L0,30.5 Z" fill="#6f767e"/>
<path d="M2.2,0 H6.7 V25.5 L2.2,29 Z" fill="#aab2b4" opacity="0.8"/>
<path d="M39,0 H45 L5,33 L1.3,30.5 Z" fill="#a89468" opacity="0.8"/>
<ellipse cx="51.75" cy="39" rx="34.35" ry="3.5" fill="#8a6a38" opacity="0.35"/>
<polyline points="1,47 8,43 17,39" fill="none" stroke="#e6b0ae" stroke-width="2.2" stroke-linecap="round"/>
<ellipse cx="42" cy="43.5" rx="3.5" ry="1.8" fill="#e8b8b4"/>
<path d="M14.4,26.2 C14.28,24.12 15.28,21.5 16.3,19.5 C17.32,17.5 18.55,15.95 20.5,14.2 C22.45,12.45 25.42,10.37 28,9 C30.58,7.63 32.78,6.93 36,6 C39.22,5.07 43.63,3.32 47.3,3.4 C50.97,3.48 54.88,5.15 58,6.5 C61.12,7.85 63.25,9.75 66,11.5 C68.75,13.25 72,14.58 74.5,17 C77,19.42 79.57,23.57 81,26 C82.43,28.43 83.77,30.4 83.1,31.6 C82.43,32.8 79.05,32.88 77,33.2 C74.95,33.52 73.63,33.12 70.8,33.5 C67.97,33.88 63.47,34.62 60,35.5 C56.53,36.38 53,38.05 50,38.8 C47,39.55 45,39.87 42,40 C39,40.13 35.17,40.18 32,39.6 C28.83,39.02 25.5,37.77 23,36.5 C20.5,35.23 18.43,33.72 17,32 C15.57,30.28 14.52,28.28 14.4,26.2 Z" fill="url(#mouse)"/>
<ellipse cx="61" cy="16.5" rx="4.2" ry="3.6" fill="#efc4c2"/>
<ellipse cx="61.6" cy="16.9" rx="2.4" ry="2.0" fill="#dc9ca2"/>
<circle cx="75.4" cy="25.1" r="1.5" fill="#5a1826"/>
<circle cx="81.9" cy="31.3" r="1.6" fill="#e8b0b0" opacity="0.8"/>
</g>
</svg>
<svg x="106.5" y="318.9" width="92.8" height="47.8" viewBox="0 0 92.8 47.8">
<g filter="url(#soft)">
<rect x="-1" y="-1" width="94.8" height="49.8" fill="url(#cage2)" />
<rect x="-1" y="-1" width="94.8" height="49.8" fill="url(#floorshade)" />
<ellipse cx="55.85" cy="34.5" rx="33.35" ry="3.5" fill="#8a6a38" opacity="0.35"/>
<polyline points="0,15 10,15.5 19.5,17" fill="none" stroke="#e6b0ae" stroke-width="2.2" stroke-linecap="round"/>
<ellipse cx="30" cy="37" rx="3.5" ry="1.8" fill="#e8b8b4"/>
<path d="M19.5,15.5 C19.65,13.05 20.83,9.93 22.2,8.1 C23.57,6.27 25.57,5.4 27.7,4.5 C29.83,3.6 31.65,3.1 35,2.7 C38.35,2.3 43.83,1.95 47.8,2.1 C51.77,2.25 55.45,2.9 58.8,3.6 C62.15,4.3 65.17,4.78 67.9,6.3 C70.63,7.82 72.92,9.8 75.2,12.7 C77.48,15.6 79.77,20.2 81.6,23.7 C83.43,27.2 86.05,31.73 86.2,33.7 C86.35,35.67 84.33,35.8 82.5,35.5 C80.67,35.2 78.23,32.72 75.2,31.9 C72.17,31.08 67.95,30.9 64.3,30.6 C60.65,30.3 57.57,30.35 53.3,30.1 C49.03,29.85 42.97,29.57 38.7,29.1 C34.43,28.63 30.6,28.35 27.7,27.3 C24.8,26.25 22.67,24.77 21.3,22.8 C19.93,20.83 19.35,17.95 19.5,15.5 Z" fill="url(#mouse)"/>
<ellipse cx="63.4" cy="20" rx="4.2" ry="3.6" fill="#efc4c2"/>
<ellipse cx="64" cy="20.4" rx="2.4" ry="2.0" fill="#dc9ca2"/>
<circle cx="76.7" cy="28.8" r="1.5" fill="#5a1826"/>
<circle cx="85" cy="33.4" r="1.6" fill="#e8b0b0" opacity="0.8"/>
</g>
</svg>
<svg x="202" y="318.9" width="96.2" height="47.8" viewBox="0 0 96.2 47.8">
<g filter="url(#soft)">
<rect x="-1" y="-1" width="98.2" height="49.8" fill="url(#cage)" />
<rect x="-1" y="-1" width="98.2" height="49.8" fill="url(#floorshade)" />
<ellipse cx="56.3" cy="33.6" rx="39.9" ry="3.5" fill="#8a6a38" opacity="0.35"/>
<polyline points="1,27 7,27 13,26.5" fill="none" stroke="#e6b0ae" stroke-width="2.2" stroke-linecap="round"/>
<ellipse cx="34" cy="38.5" rx="3.5" ry="1.8" fill="#e8b8b4"/>
<path d="M13.4,23.1 C13.23,20.87 14.02,18.48 15.3,16.4 C16.58,14.32 18.22,12.05 21.1,10.6 C23.98,9.15 28.43,8.33 32.6,7.7 C36.77,7.07 41.62,6.95 46.1,6.8 C50.58,6.65 56.3,7.13 59.5,6.8 C62.7,6.47 63.53,5.28 65.3,4.8 C67.07,4.32 67.85,3.1 70.1,3.9 C72.35,4.7 76.07,8 78.8,9.6 C81.53,11.2 84.1,12.05 86.5,13.5 C88.9,14.95 92.57,17.02 93.2,18.3 C93.83,19.58 91.75,20.23 90.3,21.2 C88.85,22.17 87.07,23.15 84.5,24.1 C81.93,25.05 78.73,25.78 74.9,26.9 C71.07,28.02 65.98,29.67 61.5,30.8 C57.02,31.93 52.17,33.07 48,33.7 C43.83,34.33 40.67,34.6 36.5,34.6 C32.33,34.6 26.37,34.5 23,33.7 C19.63,32.9 17.9,31.57 16.3,29.8 C14.7,28.03 13.57,25.33 13.4,23.1 Z" fill="url(#mouse)"/>
<ellipse cx="68.5" cy="5.5" rx="3.4" ry="3.0" fill="#efcaca"/>
<ellipse cx="68.9" cy="5.8" rx="1.8" ry="1.5" fill="#e0a8ac"/>
<ellipse cx="74" cy="15.4" rx="4.2" ry="3.6" fill="#efc4c2"/>
<ellipse cx="74.6" cy="15.8" rx="2.4" ry="2.0" fill="#dc9ca2"/>
<circle cx="87.4" cy="17.3" r="1.5" fill="#5a1826"/>
<circle cx="92" cy="18" r="1.6" fill="#e8b0b0" opacity="0.8"/>
</g>
</svg>
<svg x="13.3" y="368.8" width="90.2" height="47.9" viewBox="0 0 90.2 47.9">
<g filter="url(#soft)">
<rect x="-1" y="-1" width="92.2" height="49.9" fill="url(#cage)" />
<rect x="-1" y="-1" width="92.2" height="49.9" fill="url(#floorshade)" />
<ellipse cx="50.05" cy="37.4" rx="38.45" ry="3.5" fill="#8a6a38" opacity="0.35"/>
<polyline points="0,34 4,33.5 9,33" fill="none" stroke="#e6b0ae" stroke-width="2.2" stroke-linecap="round"/>
<ellipse cx="27.6" cy="40.6" rx="3.5" ry="1.8" fill="#e8b8b4"/>
<path d="M8.6,28.8 C8.9,26.53 10.33,23.1 12.3,20.7 C14.27,18.3 17.25,16.2 20.4,14.4 C23.55,12.6 27.28,11.1 31.2,9.9 C35.12,8.7 39.97,7.57 43.9,7.2 C47.83,6.83 51.48,7.1 54.8,7.7 C58.12,8.3 60.18,9.08 63.8,10.8 C67.42,12.52 73.48,15.45 76.5,18 C79.52,20.55 80.4,23.23 81.9,26.1 C83.4,28.97 85.5,33.33 85.5,35.2 C85.5,37.07 83.7,37 81.9,37.3 C80.1,37.6 78.62,36.9 74.7,37 C70.78,37.1 63.53,37.67 58.4,37.9 C53.27,38.13 49.03,38.32 43.9,38.4 C38.77,38.48 32.12,38.58 27.6,38.4 C23.08,38.22 19.65,37.98 16.8,37.3 C13.95,36.62 11.87,35.72 10.5,34.3 C9.13,32.88 8.3,31.07 8.6,28.8 Z" fill="url(#mouse)"/>
<ellipse cx="67.4" cy="18.9" rx="4.2" ry="3.6" fill="#efc4c2"/>
<ellipse cx="68" cy="19.3" rx="2.4" ry="2.0" fill="#dc9ca2"/>
<circle cx="78.3" cy="27.9" r="1.5" fill="#5a1826"/>
<circle cx="84.3" cy="34.9" r="1.6" fill="#e8b0b0" opacity="0.8"/>
</g>
</svg>
<svg x="106.5" y="368.8" width="92.8" height="47.9" viewBox="0 0 92.8 47.9">
<g filter="url(#soft)">
<rect x="-1" y="-1" width="94.8" height="49.9" fill="url(#cage2)" />
<rect x="-1" y="-1" width="94.8" height="49.9" fill="url(#floorshade)" />
<ellipse cx="47.6" cy="45.2" rx="43.4" ry="3.5" fill="#8a6a38" opacity="0.35"/>
<path d="M1.2,20.9 C1.67,18.63 2.62,16.42 4,14.6 C5.38,12.78 7.37,11.23 9.5,10 C11.63,8.77 14.07,7.82 16.8,7.2 C19.53,6.58 22.25,6.13 25.9,6.3 C29.55,6.47 34.73,7.28 38.7,8.2 C42.67,9.12 46.05,10.58 49.7,11.8 C53.35,13.02 57.57,14.28 60.6,15.5 C63.63,16.72 64.85,16.67 67.9,19.1 C70.95,21.53 76,26.75 78.9,30.1 C81.8,33.45 83.78,36.62 85.3,39.2 C86.82,41.78 88.47,44.43 88,45.6 C87.53,46.77 84.63,46.5 82.5,46.2 C80.37,45.9 78.23,44.82 75.2,43.8 C72.17,42.78 67.95,41.32 64.3,40.1 C60.65,38.88 57.57,37.4 53.3,36.5 C49.03,35.6 43.27,35.17 38.7,34.7 C34.13,34.23 30.77,34.17 25.9,33.7 C21.03,33.23 13.62,32.82 9.5,31.9 C5.38,30.98 2.58,30.03 1.2,28.2 C-0.18,26.37 0.73,23.17 1.2,20.9 Z" fill="url(#mouse)"/>
<ellipse cx="60.6" cy="27.3" rx="4.2" ry="3.6" fill="#efc4c2"/>
<ellipse cx="61.2" cy="27.7" rx="2.4" ry="2.0" fill="#dc9ca2"/>
<circle cx="77.1" cy="37.8" r="1.5" fill="#5a1826"/>
<circle cx="86.8" cy="45.3" r="1.6" fill="#e8b0b0" opacity="0.8"/>
</g>
</svg>
<svg x="202" y="368.8" width="96.2" height="47.9" viewBox="0 0 96.2 47.9">
<g filter="url(#soft)">
<rect x="-1" y="-1" width="98.2" height="49.9" fill="url(#cage2)" />
<rect x="-1" y="-1" width="98.2" height="49.9" fill="url(#floorshade)" />
<ellipse cx="49.55" cy="36.6" rx="42.75" ry="3.5" fill="#8a6a38" opacity="0.35"/>
<polyline points="0,27 2,33 4,36" fill="none" stroke="#e6b0ae" stroke-width="2.2" stroke-linecap="round"/>
<path d="M3.8,24.1 C4.12,21.68 4.42,18.63 5.7,16.4 C6.98,14.17 8.62,12.13 11.5,10.7 C14.38,9.27 18.83,8.45 23,7.8 C27.17,7.15 32.02,6.9 36.5,6.8 C40.98,6.7 45.73,7.03 49.9,7.2 C54.07,7.37 57.33,7.55 61.5,7.8 C65.67,8.05 71.22,6.93 74.9,8.7 C78.58,10.47 81.35,15.52 83.6,18.4 C85.85,21.28 87.45,23.77 88.4,26 C89.35,28.23 90.58,30.18 89.3,31.8 C88.02,33.42 83.73,35.22 80.7,35.7 C77.67,36.18 74.63,35.03 71.1,34.7 C67.57,34.37 63.67,33.53 59.5,33.7 C55.33,33.87 50.58,35.05 46.1,35.7 C41.62,36.35 37.08,37.28 32.6,37.6 C28.12,37.92 23.05,37.92 19.2,37.6 C15.35,37.28 12.07,36.82 9.5,35.7 C6.93,34.58 4.75,32.83 3.8,30.9 C2.85,28.97 3.48,26.52 3.8,24.1 Z" fill="url(#mouse)"/>
<ellipse cx="74.5" cy="8.5" rx="3.4" ry="3.0" fill="#efcaca"/>
<ellipse cx="74.9" cy="8.8" rx="1.8" ry="1.5" fill="#e0a8ac"/>
<ellipse cx="66.3" cy="21.2" rx="4.2" ry="3.6" fill="#efc4c2"/>
<ellipse cx="66.9" cy="21.6" rx="2.4" ry="2.0" fill="#dc9ca2"/>
<circle cx="80.3" cy="29.9" r="1.5" fill="#5a1826"/>
<circle cx="88.1" cy="31.5" r="1.6" fill="#e8b0b0" opacity="0.8"/>
</g>
</svg>
<text x="313.5" y="302" font-size="11" text-anchor="start" fill="#000" font-weight="bold" >J</text>
<line x1="339.5" y1="305.5" x2="339.5" y2="422" stroke="#262626" stroke-width="1"/>
<line x1="336.5" y1="421.7" x2="490" y2="421.7" stroke="#262626" stroke-width="1"/>
<line x1="336.5" y1="421.7" x2="339.5" y2="421.7" stroke="#262626" stroke-width="1"/>
<text x="333.2" y="424.5" font-size="6.8" text-anchor="end" fill="#3a3a3a" font-weight="normal" stroke="#3a3a3a" stroke-width="0.18" textLength="3.4" lengthAdjust="spacingAndGlyphs" >0</text>
<line x1="336.5" y1="402.7" x2="339.5" y2="402.7" stroke="#262626" stroke-width="1"/>
<text x="333.2" y="405.5" font-size="6.8" text-anchor="end" fill="#3a3a3a" font-weight="normal" stroke="#3a3a3a" stroke-width="0.18" textLength="3.4" lengthAdjust="spacingAndGlyphs" >2</text>
<line x1="336.5" y1="383.7" x2="339.5" y2="383.7" stroke="#262626" stroke-width="1"/>
<text x="333.2" y="386.5" font-size="6.8" text-anchor="end" fill="#3a3a3a" font-weight="normal" stroke="#3a3a3a" stroke-width="0.18" textLength="3.4" lengthAdjust="spacingAndGlyphs" >4</text>
<line x1="336.5" y1="364.7" x2="339.5" y2="364.7" stroke="#262626" stroke-width="1"/>
<text x="333.2" y="367.5" font-size="6.8" text-anchor="end" fill="#3a3a3a" font-weight="normal" stroke="#3a3a3a" stroke-width="0.18" textLength="3.4" lengthAdjust="spacingAndGlyphs" >6</text>
<line x1="336.5" y1="345.7" x2="339.5" y2="345.7" stroke="#262626" stroke-width="1"/>
<text x="333.2" y="348.5" font-size="6.8" text-anchor="end" fill="#3a3a3a" font-weight="normal" stroke="#3a3a3a" stroke-width="0.18" textLength="3.4" lengthAdjust="spacingAndGlyphs" >8</text>
<line x1="336.5" y1="326.7" x2="339.5" y2="326.7" stroke="#262626" stroke-width="1"/>
<text x="333.2" y="329.5" font-size="6.8" text-anchor="end" fill="#3a3a3a" font-weight="normal" stroke="#3a3a3a" stroke-width="0.18" textLength="6.8" lengthAdjust="spacingAndGlyphs" >10</text>
<line x1="336.5" y1="307.7" x2="339.5" y2="307.7" stroke="#262626" stroke-width="1"/>
<text x="333.2" y="310.5" font-size="6.8" text-anchor="end" fill="#3a3a3a" font-weight="normal" stroke="#3a3a3a" stroke-width="0.18" textLength="6.8" lengthAdjust="spacingAndGlyphs" >12</text>
<line x1="339.4" y1="421.7" x2="339.4" y2="424.5" stroke="#262626" stroke-width="1"/>
<text x="339.4" y="433.3" font-size="6.8" text-anchor="middle" fill="#3a3a3a" font-weight="normal" stroke="#3a3a3a" stroke-width="0.18" textLength="3.4" lengthAdjust="spacingAndGlyphs" >0</text>
<line x1="361.37" y1="421.7" x2="361.37" y2="424.5" stroke="#262626" stroke-width="1"/>
<text x="361.37" y="433.3" font-size="6.8" text-anchor="middle" fill="#3a3a3a" font-weight="normal" stroke="#3a3a3a" stroke-width="0.18" textLength="3.4" lengthAdjust="spacingAndGlyphs" >7</text>
<line x1="383.35" y1="421.7" x2="383.35" y2="424.5" stroke="#262626" stroke-width="1"/>
<text x="383.35" y="433.3" font-size="6.8" text-anchor="middle" fill="#3a3a3a" font-weight="normal" stroke="#3a3a3a" stroke-width="0.18" textLength="6.8" lengthAdjust="spacingAndGlyphs" >14</text>
<line x1="405.32" y1="421.7" x2="405.32" y2="424.5" stroke="#262626" stroke-width="1"/>
<text x="405.32" y="433.3" font-size="6.8" text-anchor="middle" fill="#3a3a3a" font-weight="normal" stroke="#3a3a3a" stroke-width="0.18" textLength="6.8" lengthAdjust="spacingAndGlyphs" >21</text>
<line x1="427.29" y1="421.7" x2="427.29" y2="424.5" stroke="#262626" stroke-width="1"/>
<text x="427.29" y="433.3" font-size="6.8" text-anchor="middle" fill="#3a3a3a" font-weight="normal" stroke="#3a3a3a" stroke-width="0.18" textLength="6.8" lengthAdjust="spacingAndGlyphs" >28</text>
<line x1="449.26" y1="421.7" x2="449.26" y2="424.5" stroke="#262626" stroke-width="1"/>
<text x="449.26" y="433.3" font-size="6.8" text-anchor="middle" fill="#3a3a3a" font-weight="normal" stroke="#3a3a3a" stroke-width="0.18" textLength="6.8" lengthAdjust="spacingAndGlyphs" >35</text>
<line x1="471.24" y1="421.7" x2="471.24" y2="424.5" stroke="#262626" stroke-width="1"/>
<text x="471.24" y="433.3" font-size="6.8" text-anchor="middle" fill="#3a3a3a" font-weight="normal" stroke="#3a3a3a" stroke-width="0.18" textLength="6.8" lengthAdjust="spacingAndGlyphs" >42</text>
<text x="414.8" y="444.7" font-size="8.2" text-anchor="middle" fill="#333" font-weight="normal" stroke="#333" stroke-width="0.18" textLength="45.2" lengthAdjust="spacingAndGlyphs" >Days post-HSCT</text>
<text x="321.3" y="363.5" font-size="7.8" text-anchor="middle" fill="#333" font-weight="normal" stroke="#333" stroke-width="0.18" transform="rotate(-90 321.3 363.5)" textLength="57.6" lengthAdjust="spacingAndGlyphs" >GVHD clinical score</text>
<polyline points="339.4,411.25 342.54,407.45 351.96,400.8 358.23,397.95 364.51,388.93 373.93,384.65 380.21,390.35 386.48,378 395.9,377.52 402.18,380.38 408.46,383.7 417.88,377.05 424.15,382.27 430.43,380.85 439.85,373.72 446.13,373.72 452.4,373.72 461.82,364.22 468.1,364.7" fill="none" stroke="#c4c4c6" stroke-width="1.1"/>
<circle cx="339.4" cy="411.25" r="2" fill="#c4c4c6"/>
<line x1="342.54" y1="405.55" x2="342.54" y2="407.45" stroke="#c4c4c6" stroke-width="0.8"/>
<line x1="340.94" y1="405.55" x2="344.14" y2="405.55" stroke="#c4c4c6" stroke-width="0.9"/>
<circle cx="342.54" cy="407.45" r="2" fill="#c4c4c6"/>
<line x1="351.96" y1="397.95" x2="351.96" y2="400.8" stroke="#c4c4c6" stroke-width="0.8"/>
<line x1="350.36" y1="397.95" x2="353.56" y2="397.95" stroke="#c4c4c6" stroke-width="0.9"/>
<circle cx="351.96" cy="400.8" r="2" fill="#c4c4c6"/>
<line x1="358.23" y1="395.1" x2="358.23" y2="397.95" stroke="#c4c4c6" stroke-width="0.8"/>
<line x1="356.63" y1="395.1" x2="359.83" y2="395.1" stroke="#c4c4c6" stroke-width="0.9"/>
<circle cx="358.23" cy="397.95" r="2" fill="#c4c4c6"/>
<line x1="364.51" y1="385.6" x2="364.51" y2="388.93" stroke="#c4c4c6" stroke-width="0.8"/>
<line x1="362.91" y1="385.6" x2="366.11" y2="385.6" stroke="#c4c4c6" stroke-width="0.9"/>
<circle cx="364.51" cy="388.93" r="2" fill="#c4c4c6"/>
<line x1="373.93" y1="380.85" x2="373.93" y2="384.65" stroke="#c4c4c6" stroke-width="0.8"/>
<line x1="372.33" y1="380.85" x2="375.53" y2="380.85" stroke="#c4c4c6" stroke-width="0.9"/>
<circle cx="373.93" cy="384.65" r="2" fill="#c4c4c6"/>
<line x1="380.21" y1="387.5" x2="380.21" y2="390.35" stroke="#c4c4c6" stroke-width="0.8"/>
<line x1="378.61" y1="387.5" x2="381.81" y2="387.5" stroke="#c4c4c6" stroke-width="0.9"/>
<circle cx="380.21" cy="390.35" r="2" fill="#c4c4c6"/>
<line x1="386.48" y1="373.73" x2="386.48" y2="378" stroke="#c4c4c6" stroke-width="0.8"/>
<line x1="384.88" y1="373.73" x2="388.08" y2="373.73" stroke="#c4c4c6" stroke-width="0.9"/>
<circle cx="386.48" cy="378" r="2" fill="#c4c4c6"/>
<line x1="395.9" y1="372.77" x2="395.9" y2="377.52" stroke="#c4c4c6" stroke-width="0.8"/>
<line x1="394.3" y1="372.77" x2="397.5" y2="372.77" stroke="#c4c4c6" stroke-width="0.9"/>
<circle cx="395.9" cy="377.52" r="2" fill="#c4c4c6"/>
<line x1="402.18" y1="376.57" x2="402.18" y2="380.38" stroke="#c4c4c6" stroke-width="0.8"/>
<line x1="400.58" y1="376.57" x2="403.78" y2="376.57" stroke="#c4c4c6" stroke-width="0.9"/>
<circle cx="402.18" cy="380.38" r="2" fill="#c4c4c6"/>
<line x1="408.46" y1="379.9" x2="408.46" y2="383.7" stroke="#c4c4c6" stroke-width="0.8"/>
<line x1="406.86" y1="379.9" x2="410.06" y2="379.9" stroke="#c4c4c6" stroke-width="0.9"/>
<circle cx="408.46" cy="383.7" r="2" fill="#c4c4c6"/>
<line x1="417.88" y1="373.73" x2="417.88" y2="377.05" stroke="#c4c4c6" stroke-width="0.8"/>
<line x1="416.27" y1="373.73" x2="419.48" y2="373.73" stroke="#c4c4c6" stroke-width="0.9"/>
<circle cx="417.88" cy="377.05" r="2" fill="#c4c4c6"/>
<line x1="424.15" y1="378.95" x2="424.15" y2="382.27" stroke="#c4c4c6" stroke-width="0.8"/>
<line x1="422.55" y1="378.95" x2="425.75" y2="378.95" stroke="#c4c4c6" stroke-width="0.9"/>
<circle cx="424.15" cy="382.27" r="2" fill="#c4c4c6"/>
<line x1="430.43" y1="377.05" x2="430.43" y2="380.85" stroke="#c4c4c6" stroke-width="0.8"/>
<line x1="428.83" y1="377.05" x2="432.03" y2="377.05" stroke="#c4c4c6" stroke-width="0.9"/>
<circle cx="430.43" cy="380.85" r="2" fill="#c4c4c6"/>
<line x1="439.85" y1="370.87" x2="439.85" y2="373.72" stroke="#c4c4c6" stroke-width="0.8"/>
<line x1="438.25" y1="370.87" x2="441.45" y2="370.87" stroke="#c4c4c6" stroke-width="0.9"/>
<circle cx="439.85" cy="373.72" r="2" fill="#c4c4c6"/>
<line x1="446.13" y1="370.87" x2="446.13" y2="373.72" stroke="#c4c4c6" stroke-width="0.8"/>
<line x1="444.53" y1="370.87" x2="447.73" y2="370.87" stroke="#c4c4c6" stroke-width="0.9"/>
<circle cx="446.13" cy="373.72" r="2" fill="#c4c4c6"/>
<line x1="452.4" y1="370.87" x2="452.4" y2="373.72" stroke="#c4c4c6" stroke-width="0.8"/>
<line x1="450.8" y1="370.87" x2="454" y2="370.87" stroke="#c4c4c6" stroke-width="0.9"/>
<circle cx="452.4" cy="373.72" r="2" fill="#c4c4c6"/>
<line x1="461.82" y1="361.37" x2="461.82" y2="364.22" stroke="#c4c4c6" stroke-width="0.8"/>
<line x1="460.22" y1="361.37" x2="463.42" y2="361.37" stroke="#c4c4c6" stroke-width="0.9"/>
<circle cx="461.82" cy="364.22" r="2" fill="#c4c4c6"/>
<line x1="468.1" y1="361.85" x2="468.1" y2="364.7" stroke="#c4c4c6" stroke-width="0.8"/>
<line x1="466.5" y1="361.85" x2="469.7" y2="361.85" stroke="#c4c4c6" stroke-width="0.9"/>
<circle cx="468.1" cy="364.7" r="2" fill="#c4c4c6"/>
<polyline points="339.4,410.3 342.54,400.32 351.96,396.52 358.23,398.43 364.51,396.05 373.93,391.3 380.21,393.68 386.48,393.68 395.9,386.55 402.18,391.01 408.46,391.87 417.88,391.39 424.15,391.01 430.43,382.27 439.85,372.11 446.13,369.45 452.4,369.26 461.82,364.13 468.1,366.5" fill="none" stroke="#1b4a7a" stroke-width="1.1"/>
<path d="M337.2,412 L339.4,408.2 L341.6,412 Z" fill="#1b4a7a"/>
<line x1="342.54" y1="397.47" x2="342.54" y2="400.32" stroke="#1b4a7a" stroke-width="0.8"/>
<line x1="340.94" y1="397.47" x2="344.14" y2="397.47" stroke="#1b4a7a" stroke-width="0.9"/>
<path d="M340.34,402.02 L342.54,398.22 L344.74,402.02 Z" fill="#1b4a7a"/>
<line x1="351.96" y1="393.67" x2="351.96" y2="396.52" stroke="#1b4a7a" stroke-width="0.8"/>
<line x1="350.36" y1="393.67" x2="353.56" y2="393.67" stroke="#1b4a7a" stroke-width="0.9"/>
<path d="M349.76,398.22 L351.96,394.42 L354.16,398.22 Z" fill="#1b4a7a"/>
<line x1="358.23" y1="392.73" x2="358.23" y2="404.12" stroke="#1b4a7a" stroke-width="0.8"/>
<line x1="356.63" y1="392.73" x2="359.83" y2="392.73" stroke="#1b4a7a" stroke-width="0.9"/>
<line x1="356.63" y1="404.12" x2="359.83" y2="404.12" stroke="#1b4a7a" stroke-width="0.9"/>
<path d="M356.03,400.12 L358.23,396.32 L360.43,400.12 Z" fill="#1b4a7a"/>
<line x1="364.51" y1="393.2" x2="364.51" y2="396.05" stroke="#1b4a7a" stroke-width="0.8"/>
<line x1="362.91" y1="393.2" x2="366.11" y2="393.2" stroke="#1b4a7a" stroke-width="0.9"/>
<path d="M362.31,397.75 L364.51,393.95 L366.71,397.75 Z" fill="#1b4a7a"/>
<line x1="373.93" y1="388.45" x2="373.93" y2="391.3" stroke="#1b4a7a" stroke-width="0.8"/>
<line x1="372.33" y1="388.45" x2="375.53" y2="388.45" stroke="#1b4a7a" stroke-width="0.9"/>
<path d="M371.73,393 L373.93,389.2 L376.13,393 Z" fill="#1b4a7a"/>
<line x1="380.21" y1="390.35" x2="380.21" y2="393.68" stroke="#1b4a7a" stroke-width="0.8"/>
<line x1="378.61" y1="390.35" x2="381.81" y2="390.35" stroke="#1b4a7a" stroke-width="0.9"/>
<path d="M378.01,395.38 L380.21,391.57 L382.41,395.38 Z" fill="#1b4a7a"/>
<line x1="386.48" y1="390.35" x2="386.48" y2="393.68" stroke="#1b4a7a" stroke-width="0.8"/>
<line x1="384.88" y1="390.35" x2="388.08" y2="390.35" stroke="#1b4a7a" stroke-width="0.9"/>
<path d="M384.28,395.38 L386.48,391.57 L388.68,395.38 Z" fill="#1b4a7a"/>
<line x1="395.9" y1="382.28" x2="395.9" y2="386.55" stroke="#1b4a7a" stroke-width="0.8"/>
<line x1="394.3" y1="382.28" x2="397.5" y2="382.28" stroke="#1b4a7a" stroke-width="0.9"/>
<path d="M393.7,388.25 L395.9,384.45 L398.1,388.25 Z" fill="#1b4a7a"/>
<line x1="402.18" y1="388.16" x2="402.18" y2="391.01" stroke="#1b4a7a" stroke-width="0.8"/>
<line x1="400.58" y1="388.16" x2="403.78" y2="388.16" stroke="#1b4a7a" stroke-width="0.9"/>
<path d="M399.98,392.71 L402.18,388.91 L404.38,392.71 Z" fill="#1b4a7a"/>
<line x1="408.46" y1="389.02" x2="408.46" y2="391.87" stroke="#1b4a7a" stroke-width="0.8"/>
<line x1="406.86" y1="389.02" x2="410.06" y2="389.02" stroke="#1b4a7a" stroke-width="0.9"/>
<path d="M406.26,393.57 L408.46,389.77 L410.66,393.57 Z" fill="#1b4a7a"/>
<line x1="417.88" y1="388.54" x2="417.88" y2="391.39" stroke="#1b4a7a" stroke-width="0.8"/>
<line x1="416.27" y1="388.54" x2="419.48" y2="388.54" stroke="#1b4a7a" stroke-width="0.9"/>
<path d="M415.68,393.09 L417.88,389.29 L420.07,393.09 Z" fill="#1b4a7a"/>
<line x1="424.15" y1="387.21" x2="424.15" y2="391.01" stroke="#1b4a7a" stroke-width="0.8"/>
<line x1="422.55" y1="387.21" x2="425.75" y2="387.21" stroke="#1b4a7a" stroke-width="0.9"/>
<path d="M421.95,392.71 L424.15,388.91 L426.35,392.71 Z" fill="#1b4a7a"/>
<line x1="430.43" y1="375.62" x2="430.43" y2="388.92" stroke="#1b4a7a" stroke-width="0.8"/>
<line x1="428.83" y1="375.62" x2="432.03" y2="375.62" stroke="#1b4a7a" stroke-width="0.9"/>
<line x1="428.83" y1="388.92" x2="432.03" y2="388.92" stroke="#1b4a7a" stroke-width="0.9"/>
<path d="M428.23,383.97 L430.43,380.17 L432.63,383.97 Z" fill="#1b4a7a"/>
<line x1="439.85" y1="369.74" x2="439.85" y2="372.11" stroke="#1b4a7a" stroke-width="0.8"/>
<line x1="438.25" y1="369.74" x2="441.45" y2="369.74" stroke="#1b4a7a" stroke-width="0.9"/>
<path d="M437.65,373.81 L439.85,370.01 L442.05,373.81 Z" fill="#1b4a7a"/>
<line x1="446.13" y1="365.18" x2="446.13" y2="369.45" stroke="#1b4a7a" stroke-width="0.8"/>
<line x1="444.53" y1="365.18" x2="447.73" y2="365.18" stroke="#1b4a7a" stroke-width="0.9"/>
<path d="M443.93,371.15 L446.13,367.35 L448.33,371.15 Z" fill="#1b4a7a"/>
<line x1="452.4" y1="364.51" x2="452.4" y2="374.01" stroke="#1b4a7a" stroke-width="0.8"/>
<line x1="450.8" y1="364.51" x2="454" y2="364.51" stroke="#1b4a7a" stroke-width="0.9"/>
<line x1="450.8" y1="374.01" x2="454" y2="374.01" stroke="#1b4a7a" stroke-width="0.9"/>
<path d="M450.2,370.96 L452.4,367.16 L454.6,370.96 Z" fill="#1b4a7a"/>
<line x1="461.82" y1="359.38" x2="461.82" y2="368.88" stroke="#1b4a7a" stroke-width="0.8"/>
<line x1="460.22" y1="359.38" x2="463.42" y2="359.38" stroke="#1b4a7a" stroke-width="0.9"/>
<line x1="460.22" y1="368.88" x2="463.42" y2="368.88" stroke="#1b4a7a" stroke-width="0.9"/>
<path d="M459.62,365.83 L461.82,362.03 L464.02,365.83 Z" fill="#1b4a7a"/>
<line x1="468.1" y1="360.81" x2="468.1" y2="372.2" stroke="#1b4a7a" stroke-width="0.8"/>
<line x1="466.5" y1="360.81" x2="469.7" y2="360.81" stroke="#1b4a7a" stroke-width="0.9"/>
<line x1="466.5" y1="372.2" x2="469.7" y2="372.2" stroke="#1b4a7a" stroke-width="0.9"/>
<path d="M465.9,368.2 L468.1,364.4 L470.3,368.2 Z" fill="#1b4a7a"/>
<polyline points="339.4,414.57 342.54,400.8 351.96,386.83 358.23,367.83 364.51,354.53 373.93,352.35 380.21,358.05 386.48,356.81 395.9,341.24 402.18,345.03 408.46,336.68 417.88,332.59 424.15,331.64 430.43,337.81 439.85,341.52 446.13,338.76 452.4,336.49 461.82,324.51 468.1,322.43" fill="none" stroke="#c8102e" stroke-width="1.1"/>
<rect x="337.4" y="412.57" width="4" height="4" fill="#c8102e" />
<line x1="342.54" y1="399.85" x2="342.54" y2="400.8" stroke="#c8102e" stroke-width="0.8"/>
<line x1="340.94" y1="399.85" x2="344.14" y2="399.85" stroke="#c8102e" stroke-width="0.9"/>
<rect x="340.54" y="398.8" width="4" height="4" fill="#c8102e" />
<line x1="351.96" y1="384.94" x2="351.96" y2="386.83" stroke="#c8102e" stroke-width="0.8"/>
<line x1="350.36" y1="384.94" x2="353.56" y2="384.94" stroke="#c8102e" stroke-width="0.9"/>
<rect x="349.96" y="384.83" width="4" height="4" fill="#c8102e" />
<line x1="358.23" y1="364.32" x2="358.23" y2="367.83" stroke="#c8102e" stroke-width="0.8"/>
<line x1="356.63" y1="364.32" x2="359.83" y2="364.32" stroke="#c8102e" stroke-width="0.9"/>
<rect x="356.23" y="365.83" width="4" height="4" fill="#c8102e" />
<line x1="364.51" y1="352.35" x2="364.51" y2="354.53" stroke="#c8102e" stroke-width="0.8"/>
<line x1="362.91" y1="352.35" x2="366.11" y2="352.35" stroke="#c8102e" stroke-width="0.9"/>
<rect x="362.51" y="352.53" width="4" height="4" fill="#c8102e" />
<line x1="373.93" y1="350.93" x2="373.93" y2="352.35" stroke="#c8102e" stroke-width="0.8"/>
<line x1="372.33" y1="350.93" x2="375.53" y2="350.93" stroke="#c8102e" stroke-width="0.9"/>
<rect x="371.93" y="350.35" width="4" height="4" fill="#c8102e" />
<line x1="380.21" y1="355.68" x2="380.21" y2="358.05" stroke="#c8102e" stroke-width="0.8"/>
<line x1="378.61" y1="355.68" x2="381.81" y2="355.68" stroke="#c8102e" stroke-width="0.9"/>
<rect x="378.21" y="356.05" width="4" height="4" fill="#c8102e" />
<line x1="386.48" y1="354.92" x2="386.48" y2="356.81" stroke="#c8102e" stroke-width="0.8"/>
<line x1="384.88" y1="354.92" x2="388.08" y2="354.92" stroke="#c8102e" stroke-width="0.9"/>
<rect x="384.48" y="354.81" width="4" height="4" fill="#c8102e" />
<line x1="395.9" y1="333.92" x2="395.9" y2="341.24" stroke="#c8102e" stroke-width="0.8"/>
<line x1="394.3" y1="333.92" x2="397.5" y2="333.92" stroke="#c8102e" stroke-width="0.9"/>
<rect x="393.9" y="339.24" width="4" height="4" fill="#c8102e" />
<line x1="402.18" y1="340.76" x2="402.18" y2="345.03" stroke="#c8102e" stroke-width="0.8"/>
<line x1="400.58" y1="340.76" x2="403.78" y2="340.76" stroke="#c8102e" stroke-width="0.9"/>
<rect x="400.18" y="343.03" width="4" height="4" fill="#c8102e" />
<line x1="408.46" y1="329.74" x2="408.46" y2="336.68" stroke="#c8102e" stroke-width="0.8"/>
<line x1="406.86" y1="329.74" x2="410.06" y2="329.74" stroke="#c8102e" stroke-width="0.9"/>
<rect x="406.46" y="334.68" width="4" height="4" fill="#c8102e" />
<line x1="417.88" y1="329.36" x2="417.88" y2="332.59" stroke="#c8102e" stroke-width="0.8"/>
<line x1="416.27" y1="329.36" x2="419.48" y2="329.36" stroke="#c8102e" stroke-width="0.9"/>
<rect x="415.88" y="330.59" width="4" height="4" fill="#c8102e" />
<line x1="424.15" y1="329.26" x2="424.15" y2="331.64" stroke="#c8102e" stroke-width="0.8"/>
<line x1="422.55" y1="329.26" x2="425.75" y2="329.26" stroke="#c8102e" stroke-width="0.9"/>
<rect x="422.15" y="329.64" width="4" height="4" fill="#c8102e" />
<line x1="430.43" y1="332.59" x2="430.43" y2="337.81" stroke="#c8102e" stroke-width="0.8"/>
<line x1="428.83" y1="332.59" x2="432.03" y2="332.59" stroke="#c8102e" stroke-width="0.9"/>
<rect x="428.43" y="335.81" width="4" height="4" fill="#c8102e" />
<line x1="439.85" y1="337.72" x2="439.85" y2="341.52" stroke="#c8102e" stroke-width="0.8"/>
<line x1="438.25" y1="337.72" x2="441.45" y2="337.72" stroke="#c8102e" stroke-width="0.9"/>
<rect x="437.85" y="339.52" width="4" height="4" fill="#c8102e" />
<line x1="446.13" y1="336.39" x2="446.13" y2="338.76" stroke="#c8102e" stroke-width="0.8"/>
<line x1="444.53" y1="336.39" x2="447.73" y2="336.39" stroke="#c8102e" stroke-width="0.9"/>
<rect x="444.13" y="336.76" width="4" height="4" fill="#c8102e" />
<line x1="452.4" y1="334.59" x2="452.4" y2="336.49" stroke="#c8102e" stroke-width="0.8"/>
<line x1="450.8" y1="334.59" x2="454" y2="334.59" stroke="#c8102e" stroke-width="0.9"/>
<rect x="450.4" y="334.49" width="4" height="4" fill="#c8102e" />
<line x1="461.82" y1="322.62" x2="461.82" y2="324.51" stroke="#c8102e" stroke-width="0.8"/>
<line x1="460.22" y1="322.62" x2="463.42" y2="322.62" stroke="#c8102e" stroke-width="0.9"/>
<rect x="459.82" y="322.51" width="4" height="4" fill="#c8102e" />
<line x1="468.1" y1="321" x2="468.1" y2="322.43" stroke="#c8102e" stroke-width="0.8"/>
<line x1="466.5" y1="321" x2="469.7" y2="321" stroke="#c8102e" stroke-width="0.9"/>
<rect x="466.1" y="320.43" width="4" height="4" fill="#c8102e" />
<path d="M474.4,321.9 H478.5 V366.8 H474.4" fill="none" stroke="#444" stroke-width="0.9"/>
<path d="M486,321.9 H490.6 V366.8 H486" fill="none" stroke="#444" stroke-width="0.9"/>
<circle cx="481.7" cy="344.4" r="0.7" fill="#555"/>
<circle cx="493.2" cy="344.4" r="0.7" fill="#555"/>
<line x1="345" y1="453.6" x2="355.2" y2="453.6" stroke="#c8102e" stroke-width="1.4"/>
<rect x="347.6" y="451.1" width="5" height="5" fill="#c8102e" />
<text x="358.1" y="456.2" font-size="6.8" text-anchor="start" fill="#333" font-weight="normal" stroke="#333" stroke-width="0.18" textLength="39.4" lengthAdjust="spacingAndGlyphs" >No Treatment</text>
<line x1="345" y1="464.1" x2="355.2" y2="464.1" stroke="#1b4a7a" stroke-width="1.4"/>
<path d="M347.5,466.2 L350.1,461.6 L352.7,466.2 Z" fill="#1b4a7a"/>
<text x="358.1" y="466.6" font-size="6.8" text-anchor="start" fill="#333" font-weight="normal" stroke="#333" stroke-width="0.18" textLength="57.3" lengthAdjust="spacingAndGlyphs" >Recipient Treatment</text>
<line x1="422.5" y1="453.6" x2="431.5" y2="453.6" stroke="#c4c4c6" stroke-width="1.4"/>
<circle cx="427" cy="453.6" r="2.4" fill="#c4c4c6"/>
<text x="435" y="456.2" font-size="6.8" text-anchor="start" fill="#333" font-weight="normal" stroke="#333" stroke-width="0.18" textLength="49" lengthAdjust="spacingAndGlyphs" >Donor Treatment</text>
<text x="7" y="492.4" font-size="11" text-anchor="start" fill="#000" font-weight="bold" >K</text>
<line x1="36" y1="507.5" x2="36" y2="621.6" stroke="#3a3a3a" stroke-width="1.8"/>
<line x1="33" y1="620.8" x2="36" y2="620.8" stroke="#3a3a3a" stroke-width="1.2"/>
<text x="30.4" y="623.2" font-size="6.8" text-anchor="end" fill="#3a3a3a" font-weight="normal" stroke="#3a3a3a" stroke-width="0.18" textLength="3.4" lengthAdjust="spacingAndGlyphs" >0</text>
<line x1="33" y1="597.34" x2="36" y2="597.34" stroke="#3a3a3a" stroke-width="1.2"/>
<text x="30.4" y="599.74" font-size="6.8" text-anchor="end" fill="#3a3a3a" font-weight="normal" stroke="#3a3a3a" stroke-width="0.18" textLength="6.8" lengthAdjust="spacingAndGlyphs" >25</text>
<line x1="33" y1="573.88" x2="36" y2="573.88" stroke="#3a3a3a" stroke-width="1.2"/>
<text x="30.4" y="576.28" font-size="6.8" text-anchor="end" fill="#3a3a3a" font-weight="normal" stroke="#3a3a3a" stroke-width="0.18" textLength="6.8" lengthAdjust="spacingAndGlyphs" >50</text>
<line x1="33" y1="550.42" x2="36" y2="550.42" stroke="#3a3a3a" stroke-width="1.2"/>
<text x="30.4" y="552.82" font-size="6.8" text-anchor="end" fill="#3a3a3a" font-weight="normal" stroke="#3a3a3a" stroke-width="0.18" textLength="6.8" lengthAdjust="spacingAndGlyphs" >75</text>
<line x1="33" y1="526.96" x2="36" y2="526.96" stroke="#3a3a3a" stroke-width="1.2"/>
<text x="30.4" y="529.36" font-size="6.8" text-anchor="end" fill="#3a3a3a" font-weight="normal" stroke="#3a3a3a" stroke-width="0.18" textLength="10.2" lengthAdjust="spacingAndGlyphs" >100</text>
<rect x="48.6" y="529.31" width="23.2" height="14.92" fill="#3aaa48" />
<rect x="48.6" y="544.23" width="23.2" height="76.57" fill="#27a9e1" />
<line x1="60.2" y1="620.8" x2="60.2" y2="623.4" stroke="#262626" stroke-width="1"/>
<rect x="84.8" y="529.31" width="23.2" height="22.99" fill="#3aaa48" />
<rect x="84.8" y="552.3" width="23.2" height="68.5" fill="#27a9e1" />
<line x1="96.4" y1="620.8" x2="96.4" y2="623.4" stroke="#262626" stroke-width="1"/>
<rect x="121.1" y="528.37" width="23.2" height="71.79" fill="#3aaa48" />
<rect x="121.1" y="600.16" width="23.2" height="20.64" fill="#27a9e1" />
<line x1="132.7" y1="620.8" x2="132.7" y2="623.4" stroke="#262626" stroke-width="1"/>
<line x1="35.2" y1="620.8" x2="157.5" y2="620.8" stroke="#3a3a3a" stroke-width="1.6"/>
<text x="96.75" y="502.3" font-size="9" text-anchor="middle" fill="#333" font-weight="normal" stroke="#333" stroke-width="0.18" textLength="25.7" lengthAdjust="spacingAndGlyphs" >Spleen</text>
<text x="13.9" y="563.9" font-size="7.8" text-anchor="middle" fill="#333" font-weight="normal" stroke="#333" stroke-width="0.18" transform="rotate(-90 13.9 563.9)" textLength="22.7" lengthAdjust="spacingAndGlyphs" >% Tregs</text>
<text x="63.5" y="629.6" font-size="6.8" text-anchor="end" fill="#333" font-weight="normal" stroke="#333" stroke-width="0.18" transform="rotate(-45 63.5 629.6)" textLength="29.5" lengthAdjust="spacingAndGlyphs" >Untreated</text>
<text x="99.7" y="629.6" font-size="6.8" text-anchor="end" fill="#333" font-weight="normal" stroke="#333" stroke-width="0.18" transform="rotate(-45 99.7 629.6)" textLength="49" lengthAdjust="spacingAndGlyphs" >Donor Treatment</text>
<text x="136" y="629.6" font-size="6.8" text-anchor="end" fill="#333" font-weight="normal" stroke="#333" stroke-width="0.18" transform="rotate(-45 136 629.6)" textLength="58" lengthAdjust="spacingAndGlyphs" >Recipient Treatment</text>
<rect x="51.3" y="674.3" width="5.6" height="5.6" fill="#27a9e1" />
<rect x="51.3" y="684.1" width="5.6" height="5.6" fill="#3aaa48" />
<text x="60" y="679.9" font-size="6.8" text-anchor="start" fill="#333" font-weight="normal" stroke="#333" stroke-width="0.18" textLength="71" lengthAdjust="spacingAndGlyphs" >Donor (CD4<tspan dy="-2" font-size="5">+</tspan><tspan dy="2">FoxP3</tspan><tspan dy="-2" font-size="5">+</tspan><tspan dy="2">Kb</tspan><tspan dy="-2" font-size="5">+</tspan><tspan dy="2">)</tspan></text>
<text x="60" y="689.5" font-size="6.8" text-anchor="start" fill="#333" font-weight="normal" stroke="#333" stroke-width="0.18" textLength="79.4" lengthAdjust="spacingAndGlyphs" >Recipient (CD4<tspan dy="-2" font-size="5">+</tspan><tspan dy="2">FoxP3</tspan><tspan dy="-2" font-size="5">+</tspan><tspan dy="2">Kd</tspan><tspan dy="-2" font-size="5">+</tspan><tspan dy="2">)</tspan></text>
<line x1="60.2" y1="525.7" x2="60.2" y2="531" stroke="#111" stroke-width="0.9"/>
<line x1="54.2" y1="525.7" x2="66.2" y2="525.7" stroke="#111" stroke-width="0.9"/>
<line x1="54.2" y1="531" x2="66.2" y2="531" stroke="#111" stroke-width="0.9"/>
<line x1="60.2" y1="531" x2="60.2" y2="537.7" stroke="#111" stroke-width="0.9"/>
<line x1="60.2" y1="542.6" x2="60.2" y2="547.3" stroke="#111" stroke-width="0.9"/>
<line x1="54.2" y1="542.6" x2="66.2" y2="542.6" stroke="#111" stroke-width="0.9"/>
<line x1="54.2" y1="547.3" x2="66.2" y2="547.3" stroke="#111" stroke-width="0.9"/>
<line x1="90.8" y1="528.2" x2="102.5" y2="528.2" stroke="#111" stroke-width="1.4"/>
<line x1="90.8" y1="552.2" x2="102.5" y2="552.2" stroke="#111" stroke-width="1.4"/>
<line x1="132.7" y1="523.5" x2="132.7" y2="531.3" stroke="#111" stroke-width="0.9"/>
<line x1="126.7" y1="523.5" x2="138.7" y2="523.5" stroke="#111" stroke-width="0.9"/>
<line x1="126.7" y1="531.3" x2="138.7" y2="531.3" stroke="#111" stroke-width="0.9"/>
<line x1="132.7" y1="596.7" x2="132.7" y2="604.3" stroke="#111" stroke-width="0.9"/>
<line x1="127.5" y1="596.7" x2="137.9" y2="596.7" stroke="#111" stroke-width="0.9"/>
<line x1="127.5" y1="604.3" x2="137.9" y2="604.3" stroke="#111" stroke-width="0.9"/>
<line x1="132.7" y1="519.5" x2="132.7" y2="596.7" stroke="#111" stroke-width="0.9"/>
<path d="M60.4,525 V519.5 H132.7" fill="none" stroke="#111" stroke-width="0.9"/>
<circle cx="92.35" cy="516" r="1.0" fill="#2a2a2a"/>
<circle cx="95.25" cy="516" r="1.0" fill="#2a2a2a"/>
<circle cx="98.15" cy="516" r="1.0" fill="#2a2a2a"/>
<circle cx="101.05" cy="516" r="1.0" fill="#2a2a2a"/>
<path d="M96.5,552 V547.2 H132.7" fill="none" stroke="#111" stroke-width="0.9"/>
<circle cx="110.55" cy="544" r="1.0" fill="#2a2a2a"/>
<circle cx="113.45" cy="544" r="1.0" fill="#2a2a2a"/>
<circle cx="116.35" cy="544" r="1.0" fill="#2a2a2a"/>
<circle cx="119.25" cy="544" r="1.0" fill="#2a2a2a"/>
<text x="173.3" y="492.4" font-size="11" text-anchor="start" fill="#000" font-weight="bold" >L</text>
<line x1="201.8" y1="507.6" x2="201.8" y2="621.8" stroke="#3a3a3a" stroke-width="1.8"/>
<line x1="198.8" y1="621" x2="201.8" y2="621" stroke="#3a3a3a" stroke-width="1.2"/>
<text x="196.2" y="623.4" font-size="6.8" text-anchor="end" fill="#3a3a3a" font-weight="normal" stroke="#3a3a3a" stroke-width="0.18" textLength="3.4" lengthAdjust="spacingAndGlyphs" >0</text>
<line x1="198.8" y1="597.44" x2="201.8" y2="597.44" stroke="#3a3a3a" stroke-width="1.2"/>
<text x="196.2" y="599.84" font-size="6.8" text-anchor="end" fill="#3a3a3a" font-weight="normal" stroke="#3a3a3a" stroke-width="0.18" textLength="6.8" lengthAdjust="spacingAndGlyphs" >25</text>
<line x1="198.8" y1="573.88" x2="201.8" y2="573.88" stroke="#3a3a3a" stroke-width="1.2"/>
<text x="196.2" y="576.28" font-size="6.8" text-anchor="end" fill="#3a3a3a" font-weight="normal" stroke="#3a3a3a" stroke-width="0.18" textLength="6.8" lengthAdjust="spacingAndGlyphs" >50</text>
<line x1="198.8" y1="550.32" x2="201.8" y2="550.32" stroke="#3a3a3a" stroke-width="1.2"/>
<text x="196.2" y="552.72" font-size="6.8" text-anchor="end" fill="#3a3a3a" font-weight="normal" stroke="#3a3a3a" stroke-width="0.18" textLength="6.8" lengthAdjust="spacingAndGlyphs" >75</text>
<line x1="198.8" y1="526.76" x2="201.8" y2="526.76" stroke="#3a3a3a" stroke-width="1.2"/>
<text x="196.2" y="529.16" font-size="6.8" text-anchor="end" fill="#3a3a3a" font-weight="normal" stroke="#3a3a3a" stroke-width="0.18" textLength="10.2" lengthAdjust="spacingAndGlyphs" >100</text>
<rect x="214" y="527.23" width="23.2" height="49" fill="#3aaa48" />
<rect x="214" y="576.24" width="23.2" height="44.76" fill="#27a9e1" />
<line x1="225.6" y1="621" x2="225.6" y2="623.6" stroke="#262626" stroke-width="1"/>
<rect x="249.3" y="527.23" width="23.2" height="57.96" fill="#3aaa48" />
<rect x="249.3" y="585.19" width="23.2" height="35.81" fill="#27a9e1" />
<line x1="260.9" y1="621" x2="260.9" y2="623.6" stroke="#262626" stroke-width="1"/>
<rect x="284.6" y="527.23" width="23.2" height="91.88" fill="#3aaa48" />
<rect x="284.6" y="619.12" width="23.2" height="1.88" fill="#27a9e1" />
<line x1="296.2" y1="621" x2="296.2" y2="623.6" stroke="#262626" stroke-width="1"/>
<line x1="201" y1="621" x2="319.7" y2="621" stroke="#3a3a3a" stroke-width="1.6"/>
<text x="261" y="502.3" font-size="9" text-anchor="middle" fill="#333" font-weight="normal" stroke="#333" stroke-width="0.18" textLength="22.4" lengthAdjust="spacingAndGlyphs" >Colon</text>
<text x="180.9" y="563.9" font-size="7.8" text-anchor="middle" fill="#333" font-weight="normal" stroke="#333" stroke-width="0.18" transform="rotate(-90 180.9 563.9)" textLength="22.7" lengthAdjust="spacingAndGlyphs" >% Tregs</text>
<text x="228.9" y="629.6" font-size="6.8" text-anchor="end" fill="#333" font-weight="normal" stroke="#333" stroke-width="0.18" transform="rotate(-45 228.9 629.6)" textLength="29.5" lengthAdjust="spacingAndGlyphs" >Untreated</text>
<text x="264.2" y="629.6" font-size="6.8" text-anchor="end" fill="#333" font-weight="normal" stroke="#333" stroke-width="0.18" transform="rotate(-45 264.2 629.6)" textLength="49" lengthAdjust="spacingAndGlyphs" >Donor Treatment</text>
<text x="299.5" y="629.6" font-size="6.8" text-anchor="end" fill="#333" font-weight="normal" stroke="#333" stroke-width="0.18" transform="rotate(-45 299.5 629.6)" textLength="58" lengthAdjust="spacingAndGlyphs" >Recipient Treatment</text>
<rect x="215.8" y="674.3" width="5.6" height="5.6" fill="#27a9e1" />
<rect x="215.8" y="684.1" width="5.6" height="5.6" fill="#3aaa48" />
<text x="224.5" y="679.9" font-size="6.8" text-anchor="start" fill="#333" font-weight="normal" stroke="#333" stroke-width="0.18" textLength="71" lengthAdjust="spacingAndGlyphs" >Donor (CD4<tspan dy="-2" font-size="5">+</tspan><tspan dy="2">FoxP3</tspan><tspan dy="-2" font-size="5">+</tspan><tspan dy="2">Kb</tspan><tspan dy="-2" font-size="5">+</tspan><tspan dy="2">)</tspan></text>
<text x="224.5" y="689.5" font-size="6.8" text-anchor="start" fill="#333" font-weight="normal" stroke="#333" stroke-width="0.18" textLength="79.4" lengthAdjust="spacingAndGlyphs" >Recipient (CD4<tspan dy="-2" font-size="5">+</tspan><tspan dy="2">FoxP3</tspan><tspan dy="-2" font-size="5">+</tspan><tspan dy="2">Kd</tspan><tspan dy="-2" font-size="5">+</tspan><tspan dy="2">)</tspan></text>
<line x1="225.6" y1="514.2" x2="225.6" y2="527.3" stroke="#111" stroke-width="0.9"/>
<line x1="220" y1="514.2" x2="231.2" y2="514.2" stroke="#111" stroke-width="0.9"/>
<line x1="225.6" y1="563.8" x2="225.6" y2="576.3" stroke="#111" stroke-width="0.9"/>
<line x1="220" y1="563.8" x2="231.2" y2="563.8" stroke="#111" stroke-width="0.9"/>
<line x1="260.9" y1="517.1" x2="260.9" y2="527.3" stroke="#111" stroke-width="0.9"/>
<line x1="255.3" y1="517.1" x2="266.5" y2="517.1" stroke="#111" stroke-width="0.9"/>
<line x1="260.9" y1="575.4" x2="260.9" y2="585.4" stroke="#111" stroke-width="0.9"/>
<line x1="255.3" y1="575.4" x2="266.5" y2="575.4" stroke="#111" stroke-width="0.9"/>
<line x1="290.5" y1="527" x2="301.5" y2="527" stroke="#111" stroke-width="1.0"/>
<line x1="290.5" y1="619.3" x2="301.5" y2="619.3" stroke="#111" stroke-width="1.0"/>
<path d="M225.6,558.5 V553.6 H295.7 V558.5" fill="none" stroke="#111" stroke-width="0.9"/>
<circle cx="258.1" cy="550.4" r="1.0" fill="#2a2a2a"/>
<circle cx="261" cy="550.4" r="1.0" fill="#2a2a2a"/>
<circle cx="263.9" cy="550.4" r="1.0" fill="#2a2a2a"/>
<path d="M261.2,572.5 V566.2 H295.7 V604.2" fill="none" stroke="#111" stroke-width="0.9"/>
<circle cx="277.25" cy="562.9" r="1.0" fill="#2a2a2a"/>
<circle cx="280.15" cy="562.9" r="1.0" fill="#2a2a2a"/>
<text x="335.5" y="492.4" font-size="11" text-anchor="start" fill="#000" font-weight="bold" >M</text>
<line x1="362.7" y1="507.6" x2="362.7" y2="621.6" stroke="#3a3a3a" stroke-width="1.8"/>
<line x1="359.7" y1="620.8" x2="362.7" y2="620.8" stroke="#262626" stroke-width="1"/>
<text x="357" y="623.2" font-size="6.8" text-anchor="end" fill="#3a3a3a" font-weight="normal" stroke="#3a3a3a" stroke-width="0.18" textLength="9.3" lengthAdjust="spacingAndGlyphs" >0.0</text>
<line x1="359.7" y1="593.4" x2="362.7" y2="593.4" stroke="#262626" stroke-width="1"/>
<text x="357" y="595.8" font-size="6.8" text-anchor="end" fill="#3a3a3a" font-weight="normal" stroke="#3a3a3a" stroke-width="0.18" textLength="9.3" lengthAdjust="spacingAndGlyphs" >0.2</text>
<line x1="359.7" y1="566" x2="362.7" y2="566" stroke="#262626" stroke-width="1"/>
<text x="357" y="568.4" font-size="6.8" text-anchor="end" fill="#3a3a3a" font-weight="normal" stroke="#3a3a3a" stroke-width="0.18" textLength="9.3" lengthAdjust="spacingAndGlyphs" >0.4</text>
<line x1="359.7" y1="538.6" x2="362.7" y2="538.6" stroke="#262626" stroke-width="1"/>
<text x="357" y="541" font-size="6.8" text-anchor="end" fill="#3a3a3a" font-weight="normal" stroke="#3a3a3a" stroke-width="0.18" textLength="9.3" lengthAdjust="spacingAndGlyphs" >0.6</text>
<line x1="359.7" y1="511.2" x2="362.7" y2="511.2" stroke="#262626" stroke-width="1"/>
<text x="357" y="513.6" font-size="6.8" text-anchor="end" fill="#3a3a3a" font-weight="normal" stroke="#3a3a3a" stroke-width="0.18" textLength="9.3" lengthAdjust="spacingAndGlyphs" >0.8</text>
<text x="342.3" y="564" font-size="7.8" text-anchor="middle" fill="#333" font-weight="normal" stroke="#333" stroke-width="0.18" transform="rotate(-90 342.3 564)" textLength="55.9" lengthAdjust="spacingAndGlyphs" >Recipient tregs (%)</text>
<rect x="371.2" y="568.1" width="16.9" height="29.2" fill="#e2e2e2" stroke="#cacaca" stroke-width="0.8"/>
<line x1="371.2" y1="586.5" x2="388.1" y2="586.5" stroke="#c4c4c4" stroke-width="0.9"/>
<circle cx="373.2" cy="569.9" r="2.3" fill="#bcbcbc"/>
<circle cx="385.8" cy="567.3" r="2.3" fill="#bcbcbc"/>
<circle cx="373.2" cy="587.6" r="2.3" fill="#bcbcbc"/>
<circle cx="385.8" cy="585.3" r="2.3" fill="#bcbcbc"/>
<circle cx="373.2" cy="596.5" r="2.3" fill="#bcbcbc"/>
<circle cx="385.8" cy="595.8" r="2.3" fill="#bcbcbc"/>
<line x1="405.1" y1="536.9" x2="405.1" y2="563.8" stroke="#2a9ad4" stroke-width="0.9"/>
<line x1="401.2" y1="536.9" x2="408.9" y2="536.9" stroke="#2a9ad4" stroke-width="0.9"/>
<line x1="401.2" y1="563.8" x2="408.9" y2="563.8" stroke="#2a9ad4" stroke-width="0.9"/>
<rect x="396.9" y="545.4" width="16.6" height="14.6" fill="#8fcbef" />
<line x1="396.9" y1="552.3" x2="413.5" y2="552.3" stroke="#2a9ad4" stroke-width="0.8"/>
<path d="M402.70000000000005,536.9 L405.1,534.5 L407.5,536.9 L405.1,539.3 Z" fill="#2a9ad4"/>
<path d="M402.70000000000005,545.4 L405.1,543.0 L407.5,545.4 L405.1,547.8 Z" fill="#2a9ad4"/>
<path d="M396.1,552.3 L398.5,549.9 L400.9,552.3 L398.5,554.6999999999999 Z" fill="#2a9ad4"/>
<path d="M402.70000000000005,552.3 L405.1,549.9 L407.5,552.3 L405.1,554.6999999999999 Z" fill="#2a9ad4"/>
<path d="M409.1,552.3 L411.5,549.9 L413.9,552.3 L411.5,554.6999999999999 Z" fill="#2a9ad4"/>
<path d="M406.5,560 L408.9,557.6 L411.29999999999995,560 L408.9,562.4 Z" fill="#2a9ad4"/>
<path d="M399.1,563.4 L401.5,561.0 L403.9,563.4 L401.5,565.8 Z" fill="#2a9ad4"/>
<line x1="430.3" y1="583.1" x2="430.3" y2="612" stroke="#3e5068" stroke-width="0.9"/>
<rect x="423.2" y="611.2" width="14.9" height="9.6" fill="#b5bcc8" />
<rect x="428" y="605.8" width="5" height="8.4" fill="#3e5068" />
<rect x="421.6" y="618.4" width="17.6" height="4.6" fill="#3e5068" />
<rect x="427.8" y="580.6" width="5" height="5" fill="#3e5068" />
<line x1="455.8" y1="528.5" x2="455.8" y2="544.3" stroke="#7f9ab8" stroke-width="0.9"/>
<rect x="448.2" y="544.3" width="16.4" height="29.5" fill="#7fa2c5" stroke="#6e8fb3" stroke-width="0.8"/>
<line x1="448.2" y1="556.9" x2="464.6" y2="556.9" stroke="#3f6a96" stroke-width="0.9"/>
<path d="M453.3,530.7 L455.8,526.4000000000001 L458.3,530.7 Z" fill="#1c4f82"/>
<path d="M447.2,546.3 L449.7,542.0 L452.2,546.3 Z" fill="#1c4f82"/>
<path d="M459.8,545.8 L462.3,541.5 L464.8,545.8 Z" fill="#1c4f82"/>
<path d="M459.8,559.2 L462.3,554.9000000000001 L464.8,559.2 Z" fill="#1c4f82"/>
<path d="M447.2,562.8 L449.7,558.5 L452.2,562.8 Z" fill="#1c4f82"/>
<path d="M447.2,576.2 L449.7,571.9000000000001 L452.2,576.2 Z" fill="#1c4f82"/>
<path d="M459.8,574.3 L462.3,570.0 L464.8,574.3 Z" fill="#1c4f82"/>
<line x1="361.9" y1="620.8" x2="472.7" y2="620.8" stroke="#3a3a3a" stroke-width="1.6"/>
<line x1="379.3" y1="620.8" x2="379.3" y2="623.4" stroke="#262626" stroke-width="1"/>
<line x1="404.8" y1="620.8" x2="404.8" y2="623.4" stroke="#262626" stroke-width="1"/>
<line x1="430.3" y1="620.8" x2="430.3" y2="623.4" stroke="#262626" stroke-width="1"/>
<line x1="455.8" y1="620.8" x2="455.8" y2="623.4" stroke="#262626" stroke-width="1"/>
<path d="M379.5,560.8 V514.9 H403.1 V530.8" fill="none" stroke="#262626" stroke-width="0.9"/>
<text x="391.9" y="512.8" font-size="6.2" text-anchor="middle" fill="#333" font-weight="normal" stroke="#333" stroke-width="0.18" >ns</text>
<path d="M406.9,530.8 V514.9 H430.4 V576.9" fill="none" stroke="#262626" stroke-width="0.9"/>
<circle cx="415.9" cy="511.5" r="1.0" fill="#2a2a2a"/>
<circle cx="418.8" cy="511.5" r="1.0" fill="#2a2a2a"/>
<circle cx="421.7" cy="511.5" r="1.0" fill="#2a2a2a"/>
<path d="M430.4,498.1 V491.7 H456.3 V521.2" fill="none" stroke="#262626" stroke-width="0.9"/>
<circle cx="440.5" cy="488.6" r="1.0" fill="#2a2a2a"/>
<circle cx="443.4" cy="488.6" r="1.0" fill="#2a2a2a"/>
<circle cx="446.3" cy="488.6" r="1.0" fill="#2a2a2a"/>
<text x="382.9" y="631.4" font-size="6.6" text-anchor="end" fill="#333" font-weight="normal" stroke="#333" stroke-width="0.18" transform="rotate(-45 382.9 631.4)" textLength="11.5" lengthAdjust="spacingAndGlyphs" >BM</text>
<text x="408.4" y="631.4" font-size="6.6" text-anchor="end" fill="#333" font-weight="normal" stroke="#333" stroke-width="0.18" transform="rotate(-45 408.4 631.4)" textLength="57" lengthAdjust="spacingAndGlyphs" >BM + TL1A-Ig+IL-2<tspan font-size="4.5" dy="1.5">CD</tspan></text>
<text x="433.9" y="631.4" font-size="6.6" text-anchor="end" fill="#333" font-weight="normal" stroke="#333" stroke-width="0.18" transform="rotate(-45 433.9 631.4)" textLength="21" lengthAdjust="spacingAndGlyphs" >BM + T</text>
<text x="459.4" y="631.4" font-size="6.6" text-anchor="end" fill="#333" font-weight="normal" stroke="#333" stroke-width="0.18" transform="rotate(-45 459.4 631.4)" textLength="71" lengthAdjust="spacingAndGlyphs" >BM + T + TL1A-Ig+IL-2<tspan font-size="4.5" dy="1.5">CD</tspan></text>
<rect x="0.5" y="0.5" width="519" height="696" fill="none" stroke="#555" stroke-width="1"/>
</svg></body></html>
